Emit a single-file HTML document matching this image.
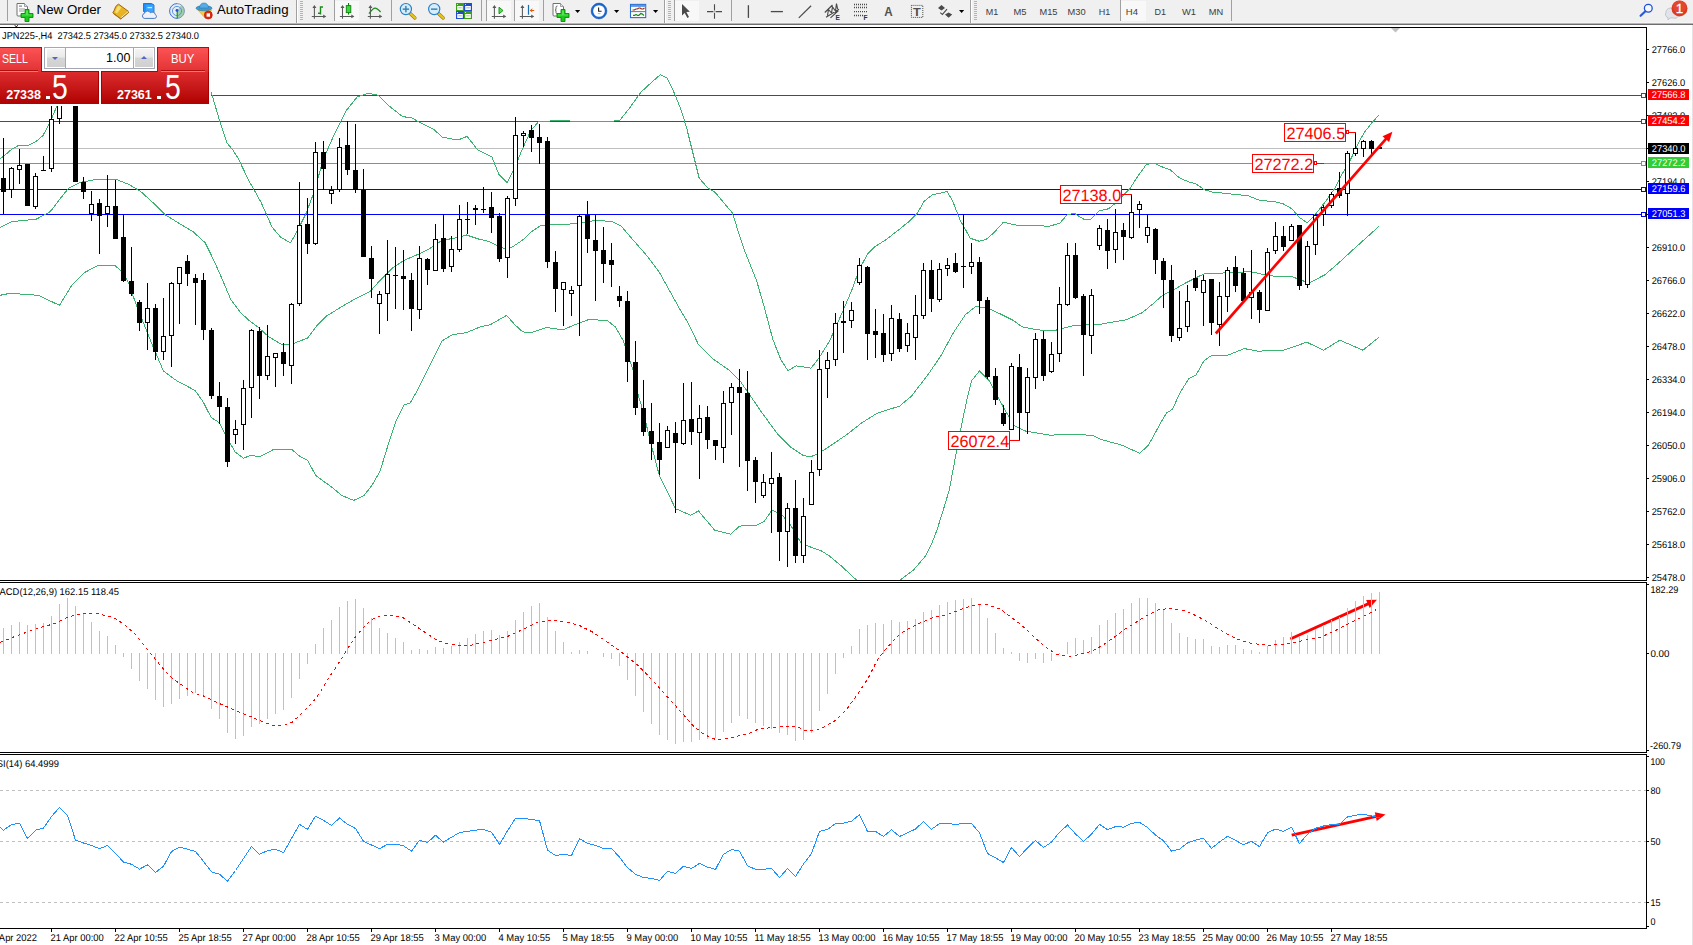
<!DOCTYPE html>
<html><head><meta charset="utf-8"><title>JPN225 H4</title>
<style>
*{margin:0;padding:0;box-sizing:border-box}
html,body{width:1693px;height:945px;overflow:hidden;background:#fff}
body{font-family:"Liberation Sans",sans-serif;position:relative}
svg{position:absolute;left:0;top:0;display:block}
svg text{font-family:"Liberation Sans",sans-serif}
#edge{position:absolute;left:1692px;top:25px;width:1px;height:920px;background:#e3e3e3}
#tp{position:absolute;left:0;top:47px;width:211px;height:59px;background:#fff;color:#fff}
#tp .sell{z-index:2;position:absolute;left:0;top:0;width:42px;height:25px;background:linear-gradient(#fb5354,#e23133);border-top:1px solid #c80000;border-right:1px solid #c00808}
#tp .buy{z-index:2;position:absolute;left:157px;top:0;width:52px;height:25px;background:linear-gradient(#fb5354,#e23133);border-top:1px solid #c80000;border-left:1px solid #c00808;border-right:1px solid #c00808}
#tp .lbl{position:absolute;top:4.2px;font-size:12.3px;line-height:14px;display:inline-block;transform-origin:0 50%;transform:scaleX(0.86);white-space:nowrap}
#tp .ul{position:absolute;top:22px;height:2px;background:linear-gradient(#b01010 50%,#f47878 50%)}
#tp .vol{position:absolute;left:44px;top:0;width:111px;height:22px;background:#fff;border:1px solid #a4a8b4}
#tp .btn{position:absolute;top:1px;width:18px;height:18px;background:linear-gradient(#f4f4f4,#eaeaea 45%,#d6d6d6 50%,#d0d0d0)}
#tp .vol:before{content:"";position:absolute;left:20px;top:0;width:1px;height:20px;background:#a4a8b4}
#tp .vol:after{content:"";position:absolute;left:88px;top:0;width:1px;height:20px;background:#a4a8b4}
#tp .dn{position:absolute;left:5.4px;top:8px;border:3px solid transparent;border-top:3.4px solid #5565c4;border-bottom:0}
#tp .up{position:absolute;left:6px;top:6.5px;border:3px solid transparent;border-bottom:3.4px solid #5565c4;border-top:0}
#tp .val{position:absolute;right:23.6px;top:3px;font-size:12.5px;line-height:14px;color:#000}
#tp .px{position:absolute;top:24px;height:33px;background:linear-gradient(#dd2b2c,#c81a1b 45%,#b00000);border-top:1px solid #b40000}
#tp .px.l{left:0;width:99px;border-right:1px solid #a80000}
#tp .px.r{left:101px;width:108px;border-left:1px solid #a80000;border-right:1px solid #a80000}
#tp .px b{position:absolute;top:17.4px;font-size:12.5px;line-height:12px;font-weight:bold}
#tp .dot{position:absolute;top:23.6px;width:4px;height:3.4px;background:#fff}
#tp .big{position:absolute;top:-1.8px;font-size:34.6px;line-height:34px;display:inline-block;transform-origin:0 50%;transform:scaleX(0.82)}
</style></head>
<body>
<svg width="1693" height="945" viewBox="0 0 1693 945">
<defs><clipPath id="mainclip"><rect x="0" y="28" width="1646" height="552"/></clipPath></defs>
<rect x="0" y="148" width="1646" height="1" fill="#c0c0c0"/>
<rect x="0" y="95" width="1646" height="1" fill="#ff0000"/>
<rect x="0" y="121" width="1646" height="1" fill="#ff0000"/>
<rect x="0" y="163" width="1646" height="1" fill="#32cd32"/>
<rect x="0" y="189" width="1646" height="1" fill="#0000ff"/>
<rect x="0" y="214" width="1646" height="1" fill="#0000ff"/>
<g clip-path="url(#mainclip)" shape-rendering="crispEdges">
<polyline points="0.0,159.0 6.0,154.2 12.0,149.0 18.4,145.5 28.4,145.3 36.0,141.5 43.0,135.5 49.6,123.4 56.7,106.4 60.0,92.0 70.0,75.0 120.0,60.0 190.0,62.0 205.0,75.0 211.2,92.6 212.6,96.9 219.7,121.0 226.8,142.8 232.6,149.7 238.2,158.5 249.5,181.9 260.8,201.8 272.2,227.3 280.7,237.2 290.6,242.9 297.7,230.1 306.2,213.1 314.7,190.4 323.2,159.2 334.6,133.7 345.9,111.0 357.2,96.9 368.6,93.2 378.5,95.4 388.4,105.4 402.6,116.7 411.1,117.6 422.5,123.8 433.8,129.5 442.3,137.1 453.6,139.4 460.0,139.2 467.1,136.4 477.7,149.9 491.9,156.9 499.0,174.7 507.1,182.5 513.2,171.1 522.0,149.9 530.9,130.4 538.7,121.5 560.0,120.6 580.0,121.4 600.0,121.5 619.5,120.8 630.1,107.3 640.7,92.4 651.4,82.5 660.2,74.7 667.3,78.3 674.4,93.2 681.5,110.9 686.8,128.6 692.1,149.9 699.2,178.2 708.0,188.1 715.1,192.4 724.0,203.0 732.5,213.0 738.2,231.4 744.8,251.2 756.8,281.3 764.9,309.5 772.9,339.6 780.9,359.8 788.0,370.8 796.0,365.8 811.1,368.2 819.1,357.7 829.2,341.7 839.2,319.5 851.3,291.4 859.4,269.3 867.4,254.2 875.4,246.2 885.5,240.1 899.6,229.1 910.0,220.7 917.1,213.6 924.2,201.2 932.0,195.0 947.1,191.6 952.2,200.0 960.2,220.2 970.3,238.3 979.3,241.3 986.3,239.3 994.4,232.2 1003.4,222.2 1016.5,225.2 1035.4,225.2 1048.7,226.5 1060.0,223.0 1067.3,214.6 1074.4,213.4 1083.9,219.3 1091.0,219.3 1099.2,211.0 1108.7,208.7 1115.8,202.8 1122.9,195.7 1129.9,188.6 1138.2,175.6 1146.5,164.3 1154.8,163.3 1163.0,167.3 1170.1,169.7 1179.6,178.0 1189.0,182.0 1196.1,183.9 1204.4,189.8 1212.6,192.1 1224.5,193.3 1236.3,194.5 1248.1,195.7 1259.9,200.4 1274.1,201.6 1283.5,204.0 1291.8,208.7 1298.9,217.0 1307.2,222.9 1313.1,217.0 1319.0,209.9 1327.2,199.2 1335.5,187.4 1342.6,173.2 1349.7,161.4 1356.8,146.1 1363.9,133.1 1372.1,122.4 1379.2,114.9" fill="none" stroke="#3cb371" stroke-width="1" />
<polyline points="0.0,227.7 12.0,221.6 36.2,219.2 50.3,211.6 60.3,198.5 68.4,188.5 80.4,182.4 96.5,179.4 116.6,179.6 128.7,184.4 140.7,191.5 152.8,202.5 164.9,214.6 180.9,224.4 193.0,231.7 205.1,242.7 213.1,258.8 221.2,277.0 231.0,300.0 241.0,313.0 249.5,320.8 259.0,328.0 269.0,337.0 281.0,344.0 289.5,345.1 307.6,338.0 317.7,324.6 325.7,316.6 341.8,306.6 355.9,298.5 369.9,291.7 380.0,280.4 392.0,268.4 404.1,260.3 418.2,254.3 430.2,248.3 442.3,240.2 454.4,238.2 466.4,235.0 478.5,239.0 488.5,241.4 498.6,246.2 505.0,249.0 512.7,246.8 522.7,240.0 530.8,232.2 540.8,225.5 550.0,224.3 562.9,224.9 579.0,222.9 595.1,220.5 611.2,221.3 621.2,226.1 633.3,240.2 647.4,256.3 659.4,272.4 669.5,290.5 680.0,309.4 688.5,323.6 698.5,344.7 712.6,358.7 728.7,369.8 740.7,381.9 749.8,395.0 760.8,411.1 776.9,433.2 791.0,447.3 803.1,455.3 810.1,456.9 817.1,454.3 831.2,445.3 847.3,434.2 861.4,423.1 877.4,413.1 899.6,406.1 911.6,396.0 929.3,372.9 941.4,354.8 953.4,332.7 965.5,314.6 975.5,306.6 987.6,307.8 1001.7,314.6 1013.7,320.6 1021.8,326.7 1037.9,329.9 1053.9,330.7 1074.0,325.4 1098.2,324.6 1114.3,321.8 1126.3,319.8 1142.4,312.6 1154.5,302.5 1162.5,295.3 1172.6,290.5 1186.6,282.4 1204.1,273.8 1218.8,273.2 1234.9,272.4 1250.4,271.6 1263.0,274.4 1270.5,275.9 1292.6,276.9 1308.7,283.0 1324.8,274.9 1339.4,262.3 1352.9,249.8 1379.0,226.3" fill="none" stroke="#3cb371" stroke-width="1" />
<polyline points="0.0,295.3 10.1,293.3 38.2,295.3 59.5,305.3 72.4,284.4 84.4,272.6 98.5,265.2 114.6,265.2 122.6,272.4 128.7,283.0 132.7,295.0 140.7,316.2 152.8,346.0 163.4,371.0 176.9,380.9 195.0,390.4 203.1,401.8 211.1,417.4 219.1,422.5 227.2,438.0 235.2,452.0 243.3,458.2 251.3,455.2 259.3,457.0 273.4,449.6 291.5,449.3 299.6,456.1 307.6,460.2 315.6,475.4 323.7,481.5 329.7,485.5 341.8,495.5 353.8,500.4 363.9,495.5 371.9,485.5 380.0,471.4 388.0,445.3 396.1,421.1 404.1,405.1 410.1,403.1 418.2,389.0 426.2,372.9 434.3,356.8 442.3,340.7 452.4,334.7 466.4,332.7 480.5,326.7 490.6,324.6 506.6,315.4 514.7,324.6 522.7,331.9 530.8,332.7 546.8,327.5 562.9,329.9 575.0,324.6 589.1,319.4 607.2,320.6 615.2,326.7 623.2,340.7 629.3,358.8 635.3,376.9 638.2,395.0 643.3,412.0 650.3,441.2 659.3,475.4 667.5,492.0 675.4,508.6 690.5,515.2 698.5,511.0 714.6,530.1 730.7,534.1 739.7,526.1 756.8,525.1 763.9,521.7 771.9,510.2 781.9,514.6 791.0,525.7 801.0,542.8 807.1,545.8 821.1,550.8 829.2,555.8 841.3,565.9 855.3,579.0 870.0,592.0 890.0,592.0 901.6,579.0 913.6,569.9 925.7,555.8 931.7,543.8 937.0,530.0 943.4,509.6 949.4,489.5 955.4,457.3 961.5,425.2 967.5,397.0 971.5,380.9 979.6,370.9 989.6,380.9 997.7,397.0 1005.7,411.1 1013.7,425.2 1025.8,431.2 1049.9,435.2 1066.0,434.4 1092.1,435.2 1100.2,439.2 1122.3,445.3 1139.6,453.3 1148.4,445.3 1160.5,423.2 1166.5,413.1 1172.6,409.1 1180.0,392.8 1188.6,378.9 1196.1,374.8 1204.1,360.7 1212.2,355.0 1228.3,355.0 1244.3,348.6 1258.4,351.2 1284.5,350.0 1306.7,342.2 1323.7,350.2 1339.8,340.2 1363.0,350.2 1379.0,337.2" fill="none" stroke="#3cb371" stroke-width="1" />
</g>
<g shape-rendering="crispEdges">
<rect x="3" y="138" width="1" height="76" fill="#000"/>
<rect x="1" y="178" width="5" height="14" fill="#000"/>
<rect x="11" y="167" width="1" height="1" fill="#000"/>
<rect x="11" y="190" width="1" height="8" fill="#000"/>
<rect x="9" y="168" width="5" height="22" fill="#000"/>
<rect x="10" y="169" width="3" height="20" fill="#fff"/>
<rect x="19" y="149" width="1" height="16" fill="#000"/>
<rect x="19" y="170" width="1" height="14" fill="#000"/>
<rect x="17" y="165" width="5" height="5" fill="#000"/>
<rect x="18" y="166" width="3" height="3" fill="#fff"/>
<rect x="27" y="164" width="1" height="42" fill="#000"/>
<rect x="25" y="164" width="5" height="42" fill="#000"/>
<rect x="35" y="173" width="1" height="3" fill="#000"/>
<rect x="35" y="207" width="1" height="2" fill="#000"/>
<rect x="33" y="176" width="5" height="31" fill="#000"/>
<rect x="34" y="177" width="3" height="29" fill="#fff"/>
<rect x="43" y="156" width="1" height="15" fill="#000"/>
<rect x="41" y="170" width="5" height="1" fill="#000"/>
<rect x="51" y="96" width="1" height="23" fill="#000"/>
<rect x="51" y="169" width="1" height="3" fill="#000"/>
<rect x="49" y="119" width="5" height="50" fill="#000"/>
<rect x="50" y="120" width="3" height="48" fill="#fff"/>
<rect x="59" y="119" width="1" height="5" fill="#000"/>
<rect x="57" y="96" width="5" height="23" fill="#000"/>
<rect x="58" y="97" width="3" height="21" fill="#fff"/>
<rect x="75" y="96" width="1" height="86" fill="#000"/>
<rect x="73" y="96" width="5" height="86" fill="#000"/>
<rect x="83" y="177" width="1" height="22" fill="#000"/>
<rect x="81" y="182" width="5" height="10" fill="#000"/>
<rect x="91" y="191" width="1" height="13" fill="#000"/>
<rect x="91" y="214" width="1" height="7" fill="#000"/>
<rect x="89" y="204" width="5" height="10" fill="#000"/>
<rect x="90" y="205" width="3" height="8" fill="#fff"/>
<rect x="99" y="199" width="1" height="55" fill="#000"/>
<rect x="97" y="203" width="5" height="13" fill="#000"/>
<rect x="107" y="175" width="1" height="31" fill="#000"/>
<rect x="107" y="214" width="1" height="13" fill="#000"/>
<rect x="105" y="206" width="5" height="8" fill="#000"/>
<rect x="106" y="207" width="3" height="6" fill="#fff"/>
<rect x="115" y="180" width="1" height="59" fill="#000"/>
<rect x="113" y="206" width="5" height="33" fill="#000"/>
<rect x="123" y="215" width="1" height="67" fill="#000"/>
<rect x="121" y="237" width="5" height="44" fill="#000"/>
<rect x="131" y="247" width="1" height="49" fill="#000"/>
<rect x="129" y="281" width="5" height="13" fill="#000"/>
<rect x="139" y="300" width="1" height="31" fill="#000"/>
<rect x="137" y="302" width="5" height="21" fill="#000"/>
<rect x="147" y="283" width="1" height="25" fill="#000"/>
<rect x="147" y="323" width="1" height="27" fill="#000"/>
<rect x="145" y="308" width="5" height="15" fill="#000"/>
<rect x="146" y="309" width="3" height="13" fill="#fff"/>
<rect x="155" y="304" width="1" height="56" fill="#000"/>
<rect x="153" y="308" width="5" height="44" fill="#000"/>
<rect x="163" y="298" width="1" height="38" fill="#000"/>
<rect x="163" y="352" width="1" height="8" fill="#000"/>
<rect x="161" y="336" width="5" height="16" fill="#000"/>
<rect x="162" y="337" width="3" height="14" fill="#fff"/>
<rect x="171" y="282" width="1" height="1" fill="#000"/>
<rect x="171" y="336" width="1" height="31" fill="#000"/>
<rect x="169" y="283" width="5" height="53" fill="#000"/>
<rect x="170" y="284" width="3" height="51" fill="#fff"/>
<rect x="179" y="284" width="1" height="40" fill="#000"/>
<rect x="177" y="267" width="5" height="17" fill="#000"/>
<rect x="178" y="268" width="3" height="15" fill="#fff"/>
<rect x="187" y="255" width="1" height="31" fill="#000"/>
<rect x="185" y="261" width="5" height="13" fill="#000"/>
<rect x="195" y="274" width="1" height="51" fill="#000"/>
<rect x="193" y="278" width="5" height="5" fill="#000"/>
<rect x="203" y="273" width="1" height="67" fill="#000"/>
<rect x="201" y="280" width="5" height="50" fill="#000"/>
<rect x="211" y="328" width="1" height="71" fill="#000"/>
<rect x="209" y="330" width="5" height="66" fill="#000"/>
<rect x="219" y="382" width="1" height="42" fill="#000"/>
<rect x="217" y="396" width="5" height="11" fill="#000"/>
<rect x="227" y="398" width="1" height="69" fill="#000"/>
<rect x="225" y="407" width="5" height="55" fill="#000"/>
<rect x="235" y="420" width="1" height="9" fill="#000"/>
<rect x="235" y="435" width="1" height="9" fill="#000"/>
<rect x="233" y="429" width="5" height="6" fill="#000"/>
<rect x="234" y="430" width="3" height="4" fill="#fff"/>
<rect x="243" y="380" width="1" height="8" fill="#000"/>
<rect x="243" y="425" width="1" height="25" fill="#000"/>
<rect x="241" y="388" width="5" height="37" fill="#000"/>
<rect x="242" y="389" width="3" height="35" fill="#fff"/>
<rect x="251" y="329" width="1" height="1" fill="#000"/>
<rect x="251" y="388" width="1" height="30" fill="#000"/>
<rect x="249" y="330" width="5" height="58" fill="#000"/>
<rect x="250" y="331" width="3" height="56" fill="#fff"/>
<rect x="259" y="327" width="1" height="72" fill="#000"/>
<rect x="257" y="331" width="5" height="45" fill="#000"/>
<rect x="267" y="325" width="1" height="31" fill="#000"/>
<rect x="267" y="376" width="1" height="4" fill="#000"/>
<rect x="265" y="356" width="5" height="20" fill="#000"/>
<rect x="266" y="357" width="3" height="18" fill="#fff"/>
<rect x="275" y="358" width="1" height="29" fill="#000"/>
<rect x="273" y="353" width="5" height="5" fill="#000"/>
<rect x="274" y="354" width="3" height="3" fill="#fff"/>
<rect x="283" y="343" width="1" height="33" fill="#000"/>
<rect x="281" y="352" width="5" height="12" fill="#000"/>
<rect x="291" y="303" width="1" height="1" fill="#000"/>
<rect x="291" y="366" width="1" height="18" fill="#000"/>
<rect x="289" y="304" width="5" height="62" fill="#000"/>
<rect x="290" y="305" width="3" height="60" fill="#fff"/>
<rect x="299" y="182" width="1" height="43" fill="#000"/>
<rect x="299" y="304" width="1" height="2" fill="#000"/>
<rect x="297" y="225" width="5" height="79" fill="#000"/>
<rect x="298" y="226" width="3" height="77" fill="#fff"/>
<rect x="307" y="198" width="1" height="56" fill="#000"/>
<rect x="305" y="224" width="5" height="20" fill="#000"/>
<rect x="315" y="142" width="1" height="10" fill="#000"/>
<rect x="315" y="244" width="1" height="1" fill="#000"/>
<rect x="313" y="152" width="5" height="92" fill="#000"/>
<rect x="314" y="153" width="3" height="90" fill="#fff"/>
<rect x="323" y="141" width="1" height="49" fill="#000"/>
<rect x="321" y="152" width="5" height="17" fill="#000"/>
<rect x="331" y="186" width="1" height="4" fill="#000"/>
<rect x="331" y="194" width="1" height="10" fill="#000"/>
<rect x="329" y="190" width="5" height="4" fill="#000"/>
<rect x="330" y="191" width="3" height="2" fill="#fff"/>
<rect x="339" y="138" width="1" height="9" fill="#000"/>
<rect x="339" y="190" width="1" height="2" fill="#000"/>
<rect x="337" y="147" width="5" height="43" fill="#000"/>
<rect x="338" y="148" width="3" height="41" fill="#fff"/>
<rect x="347" y="121" width="1" height="54" fill="#000"/>
<rect x="345" y="145" width="5" height="25" fill="#000"/>
<rect x="355" y="124" width="1" height="69" fill="#000"/>
<rect x="353" y="170" width="5" height="20" fill="#000"/>
<rect x="363" y="169" width="1" height="88" fill="#000"/>
<rect x="361" y="190" width="5" height="67" fill="#000"/>
<rect x="371" y="246" width="1" height="52" fill="#000"/>
<rect x="369" y="258" width="5" height="21" fill="#000"/>
<rect x="379" y="291" width="1" height="3" fill="#000"/>
<rect x="379" y="304" width="1" height="30" fill="#000"/>
<rect x="377" y="294" width="5" height="10" fill="#000"/>
<rect x="378" y="295" width="3" height="8" fill="#fff"/>
<rect x="387" y="240" width="1" height="34" fill="#000"/>
<rect x="387" y="294" width="1" height="27" fill="#000"/>
<rect x="385" y="274" width="5" height="20" fill="#000"/>
<rect x="386" y="275" width="3" height="18" fill="#fff"/>
<rect x="395" y="247" width="1" height="62" fill="#000"/>
<rect x="393" y="275" width="5" height="1" fill="#000"/>
<rect x="403" y="250" width="1" height="60" fill="#000"/>
<rect x="401" y="276" width="5" height="3" fill="#000"/>
<rect x="411" y="273" width="1" height="58" fill="#000"/>
<rect x="409" y="280" width="5" height="29" fill="#000"/>
<rect x="419" y="246" width="1" height="12" fill="#000"/>
<rect x="419" y="310" width="1" height="9" fill="#000"/>
<rect x="417" y="258" width="5" height="52" fill="#000"/>
<rect x="418" y="259" width="3" height="50" fill="#fff"/>
<rect x="427" y="258" width="1" height="27" fill="#000"/>
<rect x="425" y="259" width="5" height="11" fill="#000"/>
<rect x="435" y="224" width="1" height="15" fill="#000"/>
<rect x="433" y="239" width="5" height="32" fill="#000"/>
<rect x="434" y="240" width="3" height="30" fill="#fff"/>
<rect x="443" y="214" width="1" height="58" fill="#000"/>
<rect x="441" y="238" width="5" height="31" fill="#000"/>
<rect x="451" y="236" width="1" height="13" fill="#000"/>
<rect x="451" y="267" width="1" height="5" fill="#000"/>
<rect x="449" y="249" width="5" height="18" fill="#000"/>
<rect x="450" y="250" width="3" height="16" fill="#fff"/>
<rect x="459" y="205" width="1" height="14" fill="#000"/>
<rect x="459" y="250" width="1" height="2" fill="#000"/>
<rect x="457" y="219" width="5" height="31" fill="#000"/>
<rect x="458" y="220" width="3" height="29" fill="#fff"/>
<rect x="467" y="202" width="1" height="32" fill="#000"/>
<rect x="465" y="219" width="5" height="1" fill="#000"/>
<rect x="475" y="205" width="1" height="20" fill="#000"/>
<rect x="473" y="208" width="5" height="2" fill="#000"/>
<rect x="483" y="187" width="1" height="26" fill="#000"/>
<rect x="481" y="209" width="5" height="1" fill="#000"/>
<rect x="491" y="192" width="1" height="41" fill="#000"/>
<rect x="489" y="207" width="5" height="11" fill="#000"/>
<rect x="499" y="213" width="1" height="49" fill="#000"/>
<rect x="497" y="216" width="5" height="43" fill="#000"/>
<rect x="507" y="196" width="1" height="2" fill="#000"/>
<rect x="507" y="258" width="1" height="20" fill="#000"/>
<rect x="505" y="198" width="5" height="60" fill="#000"/>
<rect x="506" y="199" width="3" height="58" fill="#fff"/>
<rect x="515" y="117" width="1" height="18" fill="#000"/>
<rect x="515" y="199" width="1" height="7" fill="#000"/>
<rect x="513" y="135" width="5" height="64" fill="#000"/>
<rect x="514" y="136" width="3" height="62" fill="#fff"/>
<rect x="523" y="131" width="1" height="2" fill="#000"/>
<rect x="523" y="136" width="1" height="11" fill="#000"/>
<rect x="521" y="133" width="5" height="3" fill="#000"/>
<rect x="522" y="134" width="3" height="1" fill="#fff"/>
<rect x="531" y="125" width="1" height="27" fill="#000"/>
<rect x="529" y="130" width="5" height="8" fill="#000"/>
<rect x="539" y="124" width="1" height="40" fill="#000"/>
<rect x="537" y="137" width="5" height="6" fill="#000"/>
<rect x="547" y="137" width="1" height="131" fill="#000"/>
<rect x="545" y="141" width="5" height="121" fill="#000"/>
<rect x="555" y="251" width="1" height="61" fill="#000"/>
<rect x="553" y="262" width="5" height="27" fill="#000"/>
<rect x="563" y="290" width="1" height="36" fill="#000"/>
<rect x="561" y="282" width="5" height="8" fill="#000"/>
<rect x="562" y="283" width="3" height="6" fill="#fff"/>
<rect x="571" y="286" width="1" height="4" fill="#000"/>
<rect x="571" y="294" width="1" height="22" fill="#000"/>
<rect x="569" y="290" width="5" height="4" fill="#000"/>
<rect x="570" y="291" width="3" height="2" fill="#fff"/>
<rect x="579" y="215" width="1" height="1" fill="#000"/>
<rect x="579" y="286" width="1" height="50" fill="#000"/>
<rect x="577" y="216" width="5" height="70" fill="#000"/>
<rect x="578" y="217" width="3" height="68" fill="#fff"/>
<rect x="587" y="201" width="1" height="52" fill="#000"/>
<rect x="585" y="215" width="5" height="24" fill="#000"/>
<rect x="595" y="215" width="1" height="86" fill="#000"/>
<rect x="593" y="240" width="5" height="11" fill="#000"/>
<rect x="603" y="227" width="1" height="56" fill="#000"/>
<rect x="601" y="250" width="5" height="14" fill="#000"/>
<rect x="611" y="243" width="1" height="44" fill="#000"/>
<rect x="609" y="260" width="5" height="5" fill="#000"/>
<rect x="619" y="286" width="1" height="21" fill="#000"/>
<rect x="617" y="296" width="5" height="5" fill="#000"/>
<rect x="627" y="291" width="1" height="91" fill="#000"/>
<rect x="625" y="301" width="5" height="61" fill="#000"/>
<rect x="635" y="341" width="1" height="74" fill="#000"/>
<rect x="633" y="362" width="5" height="46" fill="#000"/>
<rect x="643" y="380" width="1" height="56" fill="#000"/>
<rect x="641" y="408" width="5" height="24" fill="#000"/>
<rect x="651" y="403" width="1" height="57" fill="#000"/>
<rect x="649" y="431" width="5" height="13" fill="#000"/>
<rect x="659" y="423" width="1" height="52" fill="#000"/>
<rect x="657" y="442" width="5" height="18" fill="#000"/>
<rect x="667" y="426" width="1" height="4" fill="#000"/>
<rect x="665" y="430" width="5" height="18" fill="#000"/>
<rect x="666" y="431" width="3" height="16" fill="#fff"/>
<rect x="675" y="422" width="1" height="91" fill="#000"/>
<rect x="673" y="433" width="5" height="10" fill="#000"/>
<rect x="683" y="383" width="1" height="37" fill="#000"/>
<rect x="683" y="444" width="1" height="1" fill="#000"/>
<rect x="681" y="420" width="5" height="24" fill="#000"/>
<rect x="682" y="421" width="3" height="22" fill="#fff"/>
<rect x="691" y="382" width="1" height="63" fill="#000"/>
<rect x="689" y="419" width="5" height="13" fill="#000"/>
<rect x="699" y="405" width="1" height="13" fill="#000"/>
<rect x="699" y="433" width="1" height="46" fill="#000"/>
<rect x="697" y="418" width="5" height="15" fill="#000"/>
<rect x="698" y="419" width="3" height="13" fill="#fff"/>
<rect x="707" y="406" width="1" height="43" fill="#000"/>
<rect x="705" y="417" width="5" height="23" fill="#000"/>
<rect x="715" y="440" width="1" height="20" fill="#000"/>
<rect x="713" y="440" width="5" height="6" fill="#000"/>
<rect x="723" y="391" width="1" height="12" fill="#000"/>
<rect x="723" y="448" width="1" height="15" fill="#000"/>
<rect x="721" y="403" width="5" height="45" fill="#000"/>
<rect x="722" y="404" width="3" height="43" fill="#fff"/>
<rect x="731" y="383" width="1" height="4" fill="#000"/>
<rect x="731" y="403" width="1" height="32" fill="#000"/>
<rect x="729" y="387" width="5" height="16" fill="#000"/>
<rect x="730" y="388" width="3" height="14" fill="#fff"/>
<rect x="739" y="369" width="1" height="98" fill="#000"/>
<rect x="737" y="387" width="5" height="6" fill="#000"/>
<rect x="747" y="371" width="1" height="120" fill="#000"/>
<rect x="745" y="393" width="5" height="68" fill="#000"/>
<rect x="755" y="457" width="1" height="46" fill="#000"/>
<rect x="753" y="460" width="5" height="22" fill="#000"/>
<rect x="763" y="474" width="1" height="8" fill="#000"/>
<rect x="763" y="496" width="1" height="2" fill="#000"/>
<rect x="761" y="482" width="5" height="14" fill="#000"/>
<rect x="762" y="483" width="3" height="12" fill="#fff"/>
<rect x="771" y="452" width="1" height="26" fill="#000"/>
<rect x="771" y="484" width="1" height="49" fill="#000"/>
<rect x="769" y="478" width="5" height="6" fill="#000"/>
<rect x="770" y="479" width="3" height="4" fill="#fff"/>
<rect x="779" y="473" width="1" height="88" fill="#000"/>
<rect x="777" y="477" width="5" height="55" fill="#000"/>
<rect x="787" y="503" width="1" height="5" fill="#000"/>
<rect x="787" y="532" width="1" height="35" fill="#000"/>
<rect x="785" y="508" width="5" height="24" fill="#000"/>
<rect x="786" y="509" width="3" height="22" fill="#fff"/>
<rect x="795" y="480" width="1" height="83" fill="#000"/>
<rect x="793" y="508" width="5" height="48" fill="#000"/>
<rect x="803" y="498" width="1" height="18" fill="#000"/>
<rect x="803" y="556" width="1" height="7" fill="#000"/>
<rect x="801" y="516" width="5" height="40" fill="#000"/>
<rect x="802" y="517" width="3" height="38" fill="#fff"/>
<rect x="811" y="460" width="1" height="12" fill="#000"/>
<rect x="809" y="472" width="5" height="33" fill="#000"/>
<rect x="810" y="473" width="3" height="31" fill="#fff"/>
<rect x="819" y="350" width="1" height="19" fill="#000"/>
<rect x="819" y="470" width="1" height="6" fill="#000"/>
<rect x="817" y="369" width="5" height="101" fill="#000"/>
<rect x="818" y="370" width="3" height="99" fill="#fff"/>
<rect x="827" y="352" width="1" height="8" fill="#000"/>
<rect x="827" y="369" width="1" height="29" fill="#000"/>
<rect x="825" y="360" width="5" height="9" fill="#000"/>
<rect x="826" y="361" width="3" height="7" fill="#fff"/>
<rect x="835" y="313" width="1" height="10" fill="#000"/>
<rect x="835" y="360" width="1" height="6" fill="#000"/>
<rect x="833" y="323" width="5" height="37" fill="#000"/>
<rect x="834" y="324" width="3" height="35" fill="#fff"/>
<rect x="843" y="301" width="1" height="52" fill="#000"/>
<rect x="841" y="321" width="5" height="2" fill="#000"/>
<rect x="851" y="302" width="1" height="8" fill="#000"/>
<rect x="851" y="321" width="1" height="7" fill="#000"/>
<rect x="849" y="310" width="5" height="11" fill="#000"/>
<rect x="850" y="311" width="3" height="9" fill="#fff"/>
<rect x="859" y="258" width="1" height="7" fill="#000"/>
<rect x="859" y="283" width="1" height="2" fill="#000"/>
<rect x="857" y="265" width="5" height="18" fill="#000"/>
<rect x="858" y="266" width="3" height="16" fill="#fff"/>
<rect x="867" y="266" width="1" height="94" fill="#000"/>
<rect x="865" y="267" width="5" height="67" fill="#000"/>
<rect x="875" y="309" width="1" height="49" fill="#000"/>
<rect x="873" y="331" width="5" height="4" fill="#000"/>
<rect x="883" y="314" width="1" height="48" fill="#000"/>
<rect x="881" y="333" width="5" height="22" fill="#000"/>
<rect x="891" y="305" width="1" height="13" fill="#000"/>
<rect x="891" y="354" width="1" height="7" fill="#000"/>
<rect x="889" y="318" width="5" height="36" fill="#000"/>
<rect x="890" y="319" width="3" height="34" fill="#fff"/>
<rect x="899" y="313" width="1" height="39" fill="#000"/>
<rect x="897" y="319" width="5" height="30" fill="#000"/>
<rect x="907" y="323" width="1" height="10" fill="#000"/>
<rect x="907" y="346" width="1" height="6" fill="#000"/>
<rect x="905" y="333" width="5" height="13" fill="#000"/>
<rect x="906" y="334" width="3" height="11" fill="#fff"/>
<rect x="915" y="295" width="1" height="20" fill="#000"/>
<rect x="915" y="338" width="1" height="22" fill="#000"/>
<rect x="913" y="315" width="5" height="23" fill="#000"/>
<rect x="914" y="316" width="3" height="21" fill="#fff"/>
<rect x="923" y="263" width="1" height="7" fill="#000"/>
<rect x="923" y="316" width="1" height="3" fill="#000"/>
<rect x="921" y="270" width="5" height="46" fill="#000"/>
<rect x="922" y="271" width="3" height="44" fill="#fff"/>
<rect x="931" y="260" width="1" height="52" fill="#000"/>
<rect x="929" y="270" width="5" height="29" fill="#000"/>
<rect x="939" y="263" width="1" height="6" fill="#000"/>
<rect x="939" y="300" width="1" height="2" fill="#000"/>
<rect x="937" y="269" width="5" height="31" fill="#000"/>
<rect x="938" y="270" width="3" height="29" fill="#fff"/>
<rect x="947" y="258" width="1" height="7" fill="#000"/>
<rect x="947" y="269" width="1" height="7" fill="#000"/>
<rect x="945" y="265" width="5" height="4" fill="#000"/>
<rect x="946" y="266" width="3" height="2" fill="#fff"/>
<rect x="955" y="253" width="1" height="20" fill="#000"/>
<rect x="953" y="263" width="5" height="9" fill="#000"/>
<rect x="963" y="214" width="1" height="74" fill="#000"/>
<rect x="961" y="266" width="5" height="1" fill="#000"/>
<rect x="971" y="243" width="1" height="19" fill="#000"/>
<rect x="971" y="267" width="1" height="7" fill="#000"/>
<rect x="969" y="262" width="5" height="5" fill="#000"/>
<rect x="970" y="263" width="3" height="3" fill="#fff"/>
<rect x="979" y="257" width="1" height="57" fill="#000"/>
<rect x="977" y="262" width="5" height="39" fill="#000"/>
<rect x="987" y="297" width="1" height="82" fill="#000"/>
<rect x="985" y="300" width="5" height="77" fill="#000"/>
<rect x="995" y="368" width="1" height="37" fill="#000"/>
<rect x="993" y="376" width="5" height="24" fill="#000"/>
<rect x="1003" y="405" width="1" height="21" fill="#000"/>
<rect x="1001" y="413" width="5" height="11" fill="#000"/>
<rect x="1011" y="363" width="1" height="3" fill="#000"/>
<rect x="1009" y="366" width="5" height="64" fill="#000"/>
<rect x="1010" y="367" width="3" height="62" fill="#fff"/>
<rect x="1019" y="354" width="1" height="86" fill="#000"/>
<rect x="1017" y="367" width="5" height="46" fill="#000"/>
<rect x="1027" y="368" width="1" height="9" fill="#000"/>
<rect x="1027" y="413" width="1" height="21" fill="#000"/>
<rect x="1025" y="377" width="5" height="36" fill="#000"/>
<rect x="1026" y="378" width="3" height="34" fill="#fff"/>
<rect x="1035" y="333" width="1" height="6" fill="#000"/>
<rect x="1035" y="378" width="1" height="11" fill="#000"/>
<rect x="1033" y="339" width="5" height="39" fill="#000"/>
<rect x="1034" y="340" width="3" height="37" fill="#fff"/>
<rect x="1043" y="331" width="1" height="50" fill="#000"/>
<rect x="1041" y="339" width="5" height="37" fill="#000"/>
<rect x="1051" y="342" width="1" height="12" fill="#000"/>
<rect x="1051" y="372" width="1" height="1" fill="#000"/>
<rect x="1049" y="354" width="5" height="18" fill="#000"/>
<rect x="1050" y="355" width="3" height="16" fill="#fff"/>
<rect x="1059" y="287" width="1" height="17" fill="#000"/>
<rect x="1059" y="354" width="1" height="8" fill="#000"/>
<rect x="1057" y="304" width="5" height="50" fill="#000"/>
<rect x="1058" y="305" width="3" height="48" fill="#fff"/>
<rect x="1067" y="243" width="1" height="12" fill="#000"/>
<rect x="1067" y="305" width="1" height="1" fill="#000"/>
<rect x="1065" y="255" width="5" height="50" fill="#000"/>
<rect x="1066" y="256" width="3" height="48" fill="#fff"/>
<rect x="1075" y="243" width="1" height="56" fill="#000"/>
<rect x="1073" y="255" width="5" height="43" fill="#000"/>
<rect x="1083" y="294" width="1" height="82" fill="#000"/>
<rect x="1081" y="296" width="5" height="39" fill="#000"/>
<rect x="1091" y="289" width="1" height="6" fill="#000"/>
<rect x="1091" y="336" width="1" height="18" fill="#000"/>
<rect x="1089" y="295" width="5" height="41" fill="#000"/>
<rect x="1090" y="296" width="3" height="39" fill="#fff"/>
<rect x="1099" y="225" width="1" height="3" fill="#000"/>
<rect x="1099" y="246" width="1" height="4" fill="#000"/>
<rect x="1097" y="228" width="5" height="18" fill="#000"/>
<rect x="1098" y="229" width="3" height="16" fill="#fff"/>
<rect x="1107" y="219" width="1" height="50" fill="#000"/>
<rect x="1105" y="230" width="5" height="21" fill="#000"/>
<rect x="1115" y="209" width="1" height="23" fill="#000"/>
<rect x="1115" y="250" width="1" height="13" fill="#000"/>
<rect x="1113" y="232" width="5" height="18" fill="#000"/>
<rect x="1114" y="233" width="3" height="16" fill="#fff"/>
<rect x="1123" y="223" width="1" height="37" fill="#000"/>
<rect x="1121" y="230" width="5" height="7" fill="#000"/>
<rect x="1131" y="194" width="1" height="18" fill="#000"/>
<rect x="1131" y="238" width="1" height="1" fill="#000"/>
<rect x="1129" y="212" width="5" height="26" fill="#000"/>
<rect x="1130" y="213" width="3" height="24" fill="#fff"/>
<rect x="1139" y="201" width="1" height="3" fill="#000"/>
<rect x="1139" y="210" width="1" height="18" fill="#000"/>
<rect x="1137" y="204" width="5" height="6" fill="#000"/>
<rect x="1138" y="205" width="3" height="4" fill="#fff"/>
<rect x="1147" y="215" width="1" height="12" fill="#000"/>
<rect x="1147" y="236" width="1" height="7" fill="#000"/>
<rect x="1145" y="227" width="5" height="9" fill="#000"/>
<rect x="1146" y="228" width="3" height="7" fill="#fff"/>
<rect x="1155" y="228" width="1" height="46" fill="#000"/>
<rect x="1153" y="229" width="5" height="31" fill="#000"/>
<rect x="1163" y="258" width="1" height="50" fill="#000"/>
<rect x="1161" y="261" width="5" height="19" fill="#000"/>
<rect x="1171" y="265" width="1" height="77" fill="#000"/>
<rect x="1169" y="280" width="5" height="56" fill="#000"/>
<rect x="1179" y="291" width="1" height="37" fill="#000"/>
<rect x="1179" y="338" width="1" height="3" fill="#000"/>
<rect x="1177" y="328" width="5" height="10" fill="#000"/>
<rect x="1178" y="329" width="3" height="8" fill="#fff"/>
<rect x="1187" y="285" width="1" height="16" fill="#000"/>
<rect x="1187" y="327" width="1" height="5" fill="#000"/>
<rect x="1185" y="301" width="5" height="26" fill="#000"/>
<rect x="1186" y="302" width="3" height="24" fill="#fff"/>
<rect x="1195" y="270" width="1" height="21" fill="#000"/>
<rect x="1193" y="278" width="5" height="10" fill="#000"/>
<rect x="1203" y="275" width="1" height="5" fill="#000"/>
<rect x="1203" y="293" width="1" height="33" fill="#000"/>
<rect x="1201" y="280" width="5" height="13" fill="#000"/>
<rect x="1202" y="281" width="3" height="11" fill="#fff"/>
<rect x="1211" y="279" width="1" height="56" fill="#000"/>
<rect x="1209" y="279" width="5" height="44" fill="#000"/>
<rect x="1219" y="282" width="1" height="14" fill="#000"/>
<rect x="1219" y="325" width="1" height="21" fill="#000"/>
<rect x="1217" y="296" width="5" height="29" fill="#000"/>
<rect x="1218" y="297" width="3" height="27" fill="#fff"/>
<rect x="1227" y="267" width="1" height="3" fill="#000"/>
<rect x="1227" y="297" width="1" height="15" fill="#000"/>
<rect x="1225" y="270" width="5" height="27" fill="#000"/>
<rect x="1226" y="271" width="3" height="25" fill="#fff"/>
<rect x="1235" y="256" width="1" height="36" fill="#000"/>
<rect x="1233" y="267" width="5" height="19" fill="#000"/>
<rect x="1243" y="268" width="1" height="33" fill="#000"/>
<rect x="1241" y="273" width="5" height="28" fill="#000"/>
<rect x="1251" y="250" width="1" height="42" fill="#000"/>
<rect x="1251" y="298" width="1" height="21" fill="#000"/>
<rect x="1249" y="292" width="5" height="6" fill="#000"/>
<rect x="1250" y="293" width="3" height="4" fill="#fff"/>
<rect x="1259" y="290" width="1" height="33" fill="#000"/>
<rect x="1257" y="292" width="5" height="18" fill="#000"/>
<rect x="1267" y="248" width="1" height="4" fill="#000"/>
<rect x="1265" y="252" width="5" height="59" fill="#000"/>
<rect x="1266" y="253" width="3" height="57" fill="#fff"/>
<rect x="1275" y="222" width="1" height="14" fill="#000"/>
<rect x="1275" y="251" width="1" height="3" fill="#000"/>
<rect x="1273" y="236" width="5" height="15" fill="#000"/>
<rect x="1274" y="237" width="3" height="13" fill="#fff"/>
<rect x="1283" y="226" width="1" height="25" fill="#000"/>
<rect x="1281" y="236" width="5" height="11" fill="#000"/>
<rect x="1291" y="224" width="1" height="2" fill="#000"/>
<rect x="1289" y="226" width="5" height="15" fill="#000"/>
<rect x="1290" y="227" width="3" height="13" fill="#fff"/>
<rect x="1299" y="225" width="1" height="65" fill="#000"/>
<rect x="1297" y="225" width="5" height="61" fill="#000"/>
<rect x="1307" y="241" width="1" height="5" fill="#000"/>
<rect x="1307" y="285" width="1" height="3" fill="#000"/>
<rect x="1305" y="246" width="5" height="39" fill="#000"/>
<rect x="1306" y="247" width="3" height="37" fill="#fff"/>
<rect x="1315" y="214" width="1" height="1" fill="#000"/>
<rect x="1315" y="245" width="1" height="10" fill="#000"/>
<rect x="1313" y="215" width="5" height="30" fill="#000"/>
<rect x="1314" y="216" width="3" height="28" fill="#fff"/>
<rect x="1323" y="205" width="1" height="2" fill="#000"/>
<rect x="1323" y="215" width="1" height="11" fill="#000"/>
<rect x="1321" y="207" width="5" height="8" fill="#000"/>
<rect x="1322" y="208" width="3" height="6" fill="#fff"/>
<rect x="1331" y="192" width="1" height="2" fill="#000"/>
<rect x="1331" y="206" width="1" height="2" fill="#000"/>
<rect x="1329" y="194" width="5" height="12" fill="#000"/>
<rect x="1330" y="195" width="3" height="10" fill="#fff"/>
<rect x="1339" y="172" width="1" height="26" fill="#000"/>
<rect x="1337" y="188" width="5" height="8" fill="#000"/>
<rect x="1347" y="151" width="1" height="2" fill="#000"/>
<rect x="1347" y="194" width="1" height="22" fill="#000"/>
<rect x="1345" y="153" width="5" height="41" fill="#000"/>
<rect x="1346" y="154" width="3" height="39" fill="#fff"/>
<rect x="1355" y="132" width="1" height="16" fill="#000"/>
<rect x="1355" y="154" width="1" height="2" fill="#000"/>
<rect x="1353" y="148" width="5" height="6" fill="#000"/>
<rect x="1354" y="149" width="3" height="4" fill="#fff"/>
<rect x="1363" y="140" width="1" height="1" fill="#000"/>
<rect x="1363" y="149" width="1" height="8" fill="#000"/>
<rect x="1361" y="141" width="5" height="8" fill="#000"/>
<rect x="1362" y="142" width="3" height="6" fill="#fff"/>
<rect x="1371" y="140" width="1" height="14" fill="#000"/>
<rect x="1369" y="141" width="5" height="8" fill="#000"/>
<rect x="1378" y="147" width="4" height="2" fill="#000"/>
</g>
<g shape-rendering="crispEdges">
<rect x="1122" y="194" width="10" height="1" fill="#ff0000"/>
<rect x="1010" y="440" width="10" height="1" fill="#ff0000"/>
<rect x="1349" y="132" width="7" height="1" fill="#ff0000"/>
<rect x="1346" y="130" width="3" height="4" fill="#ff0000"/><rect x="1347" y="131" width="1" height="2" fill="#fff"/>
<rect x="1317" y="163" width="7" height="1" fill="#ff0000"/>
<rect x="1314" y="161" width="3" height="4" fill="#ff0000"/><rect x="1315" y="162" width="1" height="2" fill="#fff"/>
</g>
<rect x="1060.5" y="185.5" width="61" height="18" fill="#fff" stroke="#ff0000" stroke-width="1"/>
<text x="1062.4" y="200.8" font-size="16.4" fill="#ff0000" text-rendering="geometricPrecision" textLength="58.8" lengthAdjust="spacingAndGlyphs">27138.0</text>
<rect x="948.5" y="431.5" width="61" height="18" fill="#fff" stroke="#ff0000" stroke-width="1"/>
<text x="950.4" y="446.8" font-size="16.4" fill="#ff0000" text-rendering="geometricPrecision" textLength="58.8" lengthAdjust="spacingAndGlyphs">26072.4</text>
<rect x="1284.5" y="123.5" width="61" height="18" fill="#fff" stroke="#ff0000" stroke-width="1"/>
<text x="1286.4" y="138.8" font-size="16.4" fill="#ff0000" text-rendering="geometricPrecision" textLength="58.8" lengthAdjust="spacingAndGlyphs">27406.5</text>
<rect x="1252.5" y="154.5" width="61" height="18" fill="#fff" stroke="#ff0000" stroke-width="1"/>
<text x="1254.4" y="169.8" font-size="16.4" fill="#ff0000" text-rendering="geometricPrecision" textLength="58.8" lengthAdjust="spacingAndGlyphs">27272.2</text>
<line x1="1215.8" y1="333.5" x2="1387.1" y2="137.7" stroke="#ff0000" stroke-width="2.7"/>
<polygon points="1392.4,131.7 1389.1,142.1 1382.5,136.3" fill="#ff0000"/>
<line x1="1290.3" y1="639.0" x2="1369.7" y2="603.1" stroke="#ff0000" stroke-width="2.8"/>
<polygon points="1377.0,599.8 1369.7,607.9 1366.1,599.9" fill="#ff0000"/>
<line x1="1291.7" y1="835.1" x2="1377.7" y2="816.1" stroke="#ff0000" stroke-width="2.8"/>
<polygon points="1385.5,814.4 1376.7,820.9 1374.8,812.3" fill="#ff0000"/>
<g shape-rendering="crispEdges">
<rect x="3" y="628" width="1" height="26" fill="#c0c0c0"/>
<rect x="11" y="625" width="1" height="29" fill="#c0c0c0"/>
<rect x="19" y="622" width="1" height="32" fill="#c0c0c0"/>
<rect x="27" y="625" width="1" height="29" fill="#c0c0c0"/>
<rect x="35" y="624" width="1" height="30" fill="#c0c0c0"/>
<rect x="43" y="623" width="1" height="31" fill="#c0c0c0"/>
<rect x="51" y="616" width="1" height="38" fill="#c0c0c0"/>
<rect x="59" y="604" width="1" height="50" fill="#c0c0c0"/>
<rect x="67" y="598" width="1" height="56" fill="#c0c0c0"/>
<rect x="75" y="606" width="1" height="48" fill="#c0c0c0"/>
<rect x="83" y="614" width="1" height="40" fill="#c0c0c0"/>
<rect x="91" y="622" width="1" height="32" fill="#c0c0c0"/>
<rect x="99" y="631" width="1" height="23" fill="#c0c0c0"/>
<rect x="107" y="636" width="1" height="18" fill="#c0c0c0"/>
<rect x="115" y="645" width="1" height="9" fill="#c0c0c0"/>
<rect x="123" y="653" width="1" height="4" fill="#c0c0c0"/>
<rect x="131" y="653" width="1" height="16" fill="#c0c0c0"/>
<rect x="139" y="653" width="1" height="28" fill="#c0c0c0"/>
<rect x="147" y="653" width="1" height="36" fill="#c0c0c0"/>
<rect x="155" y="653" width="1" height="47" fill="#c0c0c0"/>
<rect x="163" y="653" width="1" height="54" fill="#c0c0c0"/>
<rect x="171" y="653" width="1" height="51" fill="#c0c0c0"/>
<rect x="179" y="653" width="1" height="46" fill="#c0c0c0"/>
<rect x="187" y="653" width="1" height="43" fill="#c0c0c0"/>
<rect x="195" y="653" width="1" height="40" fill="#c0c0c0"/>
<rect x="203" y="653" width="1" height="43" fill="#c0c0c0"/>
<rect x="211" y="653" width="1" height="56" fill="#c0c0c0"/>
<rect x="219" y="653" width="1" height="66" fill="#c0c0c0"/>
<rect x="227" y="653" width="1" height="80" fill="#c0c0c0"/>
<rect x="235" y="653" width="1" height="86" fill="#c0c0c0"/>
<rect x="243" y="653" width="1" height="83" fill="#c0c0c0"/>
<rect x="251" y="653" width="1" height="74" fill="#c0c0c0"/>
<rect x="259" y="653" width="1" height="71" fill="#c0c0c0"/>
<rect x="267" y="653" width="1" height="66" fill="#c0c0c0"/>
<rect x="275" y="653" width="1" height="61" fill="#c0c0c0"/>
<rect x="283" y="653" width="1" height="57" fill="#c0c0c0"/>
<rect x="291" y="653" width="1" height="45" fill="#c0c0c0"/>
<rect x="299" y="653" width="1" height="26" fill="#c0c0c0"/>
<rect x="307" y="653" width="1" height="11" fill="#c0c0c0"/>
<rect x="315" y="644" width="1" height="10" fill="#c0c0c0"/>
<rect x="323" y="628" width="1" height="26" fill="#c0c0c0"/>
<rect x="331" y="620" width="1" height="34" fill="#c0c0c0"/>
<rect x="339" y="607" width="1" height="47" fill="#c0c0c0"/>
<rect x="347" y="601" width="1" height="53" fill="#c0c0c0"/>
<rect x="355" y="599" width="1" height="55" fill="#c0c0c0"/>
<rect x="363" y="608" width="1" height="46" fill="#c0c0c0"/>
<rect x="371" y="618" width="1" height="36" fill="#c0c0c0"/>
<rect x="379" y="628" width="1" height="26" fill="#c0c0c0"/>
<rect x="387" y="633" width="1" height="21" fill="#c0c0c0"/>
<rect x="395" y="638" width="1" height="16" fill="#c0c0c0"/>
<rect x="403" y="642" width="1" height="12" fill="#c0c0c0"/>
<rect x="411" y="650" width="1" height="4" fill="#c0c0c0"/>
<rect x="419" y="649" width="1" height="5" fill="#c0c0c0"/>
<rect x="427" y="650" width="1" height="4" fill="#c0c0c0"/>
<rect x="435" y="647" width="1" height="7" fill="#c0c0c0"/>
<rect x="443" y="648" width="1" height="6" fill="#c0c0c0"/>
<rect x="451" y="646" width="1" height="8" fill="#c0c0c0"/>
<rect x="459" y="642" width="1" height="12" fill="#c0c0c0"/>
<rect x="467" y="638" width="1" height="16" fill="#c0c0c0"/>
<rect x="475" y="634" width="1" height="20" fill="#c0c0c0"/>
<rect x="483" y="631" width="1" height="23" fill="#c0c0c0"/>
<rect x="491" y="630" width="1" height="24" fill="#c0c0c0"/>
<rect x="499" y="635" width="1" height="19" fill="#c0c0c0"/>
<rect x="507" y="631" width="1" height="23" fill="#c0c0c0"/>
<rect x="515" y="620" width="1" height="34" fill="#c0c0c0"/>
<rect x="523" y="612" width="1" height="42" fill="#c0c0c0"/>
<rect x="531" y="606" width="1" height="48" fill="#c0c0c0"/>
<rect x="539" y="603" width="1" height="51" fill="#c0c0c0"/>
<rect x="547" y="617" width="1" height="37" fill="#c0c0c0"/>
<rect x="555" y="631" width="1" height="23" fill="#c0c0c0"/>
<rect x="563" y="642" width="1" height="12" fill="#c0c0c0"/>
<rect x="571" y="652" width="1" height="2" fill="#c0c0c0"/>
<rect x="579" y="650" width="1" height="4" fill="#c0c0c0"/>
<rect x="587" y="651" width="1" height="3" fill="#c0c0c0"/>
<rect x="603" y="653" width="1" height="4" fill="#c0c0c0"/>
<rect x="611" y="653" width="1" height="6" fill="#c0c0c0"/>
<rect x="619" y="653" width="1" height="13" fill="#c0c0c0"/>
<rect x="627" y="653" width="1" height="27" fill="#c0c0c0"/>
<rect x="635" y="653" width="1" height="43" fill="#c0c0c0"/>
<rect x="643" y="653" width="1" height="59" fill="#c0c0c0"/>
<rect x="651" y="653" width="1" height="71" fill="#c0c0c0"/>
<rect x="659" y="653" width="1" height="82" fill="#c0c0c0"/>
<rect x="667" y="653" width="1" height="87" fill="#c0c0c0"/>
<rect x="675" y="653" width="1" height="91" fill="#c0c0c0"/>
<rect x="683" y="653" width="1" height="89" fill="#c0c0c0"/>
<rect x="691" y="653" width="1" height="89" fill="#c0c0c0"/>
<rect x="699" y="653" width="1" height="87" fill="#c0c0c0"/>
<rect x="707" y="653" width="1" height="86" fill="#c0c0c0"/>
<rect x="715" y="653" width="1" height="85" fill="#c0c0c0"/>
<rect x="723" y="653" width="1" height="79" fill="#c0c0c0"/>
<rect x="731" y="653" width="1" height="70" fill="#c0c0c0"/>
<rect x="739" y="653" width="1" height="63" fill="#c0c0c0"/>
<rect x="747" y="653" width="1" height="66" fill="#c0c0c0"/>
<rect x="755" y="653" width="1" height="70" fill="#c0c0c0"/>
<rect x="763" y="653" width="1" height="73" fill="#c0c0c0"/>
<rect x="771" y="653" width="1" height="76" fill="#c0c0c0"/>
<rect x="779" y="653" width="1" height="80" fill="#c0c0c0"/>
<rect x="787" y="653" width="1" height="82" fill="#c0c0c0"/>
<rect x="795" y="653" width="1" height="88" fill="#c0c0c0"/>
<rect x="803" y="653" width="1" height="87" fill="#c0c0c0"/>
<rect x="811" y="653" width="1" height="80" fill="#c0c0c0"/>
<rect x="819" y="653" width="1" height="58" fill="#c0c0c0"/>
<rect x="827" y="653" width="1" height="41" fill="#c0c0c0"/>
<rect x="835" y="653" width="1" height="21" fill="#c0c0c0"/>
<rect x="843" y="653" width="1" height="5" fill="#c0c0c0"/>
<rect x="851" y="646" width="1" height="8" fill="#c0c0c0"/>
<rect x="859" y="629" width="1" height="25" fill="#c0c0c0"/>
<rect x="867" y="625" width="1" height="29" fill="#c0c0c0"/>
<rect x="875" y="623" width="1" height="31" fill="#c0c0c0"/>
<rect x="883" y="624" width="1" height="30" fill="#c0c0c0"/>
<rect x="891" y="620" width="1" height="34" fill="#c0c0c0"/>
<rect x="899" y="622" width="1" height="32" fill="#c0c0c0"/>
<rect x="907" y="621" width="1" height="33" fill="#c0c0c0"/>
<rect x="915" y="619" width="1" height="35" fill="#c0c0c0"/>
<rect x="923" y="612" width="1" height="42" fill="#c0c0c0"/>
<rect x="931" y="610" width="1" height="44" fill="#c0c0c0"/>
<rect x="939" y="605" width="1" height="49" fill="#c0c0c0"/>
<rect x="947" y="602" width="1" height="52" fill="#c0c0c0"/>
<rect x="955" y="600" width="1" height="54" fill="#c0c0c0"/>
<rect x="963" y="599" width="1" height="55" fill="#c0c0c0"/>
<rect x="971" y="598" width="1" height="56" fill="#c0c0c0"/>
<rect x="979" y="604" width="1" height="50" fill="#c0c0c0"/>
<rect x="987" y="618" width="1" height="36" fill="#c0c0c0"/>
<rect x="995" y="633" width="1" height="21" fill="#c0c0c0"/>
<rect x="1003" y="648" width="1" height="6" fill="#c0c0c0"/>
<rect x="1011" y="652" width="1" height="2" fill="#c0c0c0"/>
<rect x="1019" y="653" width="1" height="8" fill="#c0c0c0"/>
<rect x="1027" y="653" width="1" height="10" fill="#c0c0c0"/>
<rect x="1035" y="653" width="1" height="6" fill="#c0c0c0"/>
<rect x="1043" y="653" width="1" height="10" fill="#c0c0c0"/>
<rect x="1051" y="653" width="1" height="8" fill="#c0c0c0"/>
<rect x="1059" y="653" width="1" height="1" fill="#c0c0c0"/>
<rect x="1067" y="642" width="1" height="12" fill="#c0c0c0"/>
<rect x="1075" y="638" width="1" height="16" fill="#c0c0c0"/>
<rect x="1083" y="640" width="1" height="14" fill="#c0c0c0"/>
<rect x="1091" y="637" width="1" height="17" fill="#c0c0c0"/>
<rect x="1099" y="625" width="1" height="29" fill="#c0c0c0"/>
<rect x="1107" y="620" width="1" height="34" fill="#c0c0c0"/>
<rect x="1115" y="613" width="1" height="41" fill="#c0c0c0"/>
<rect x="1123" y="609" width="1" height="45" fill="#c0c0c0"/>
<rect x="1131" y="603" width="1" height="51" fill="#c0c0c0"/>
<rect x="1139" y="598" width="1" height="56" fill="#c0c0c0"/>
<rect x="1147" y="598" width="1" height="56" fill="#c0c0c0"/>
<rect x="1155" y="603" width="1" height="51" fill="#c0c0c0"/>
<rect x="1163" y="610" width="1" height="44" fill="#c0c0c0"/>
<rect x="1171" y="623" width="1" height="31" fill="#c0c0c0"/>
<rect x="1179" y="633" width="1" height="21" fill="#c0c0c0"/>
<rect x="1187" y="637" width="1" height="17" fill="#c0c0c0"/>
<rect x="1195" y="639" width="1" height="15" fill="#c0c0c0"/>
<rect x="1203" y="639" width="1" height="15" fill="#c0c0c0"/>
<rect x="1211" y="646" width="1" height="8" fill="#c0c0c0"/>
<rect x="1219" y="647" width="1" height="7" fill="#c0c0c0"/>
<rect x="1227" y="645" width="1" height="9" fill="#c0c0c0"/>
<rect x="1235" y="645" width="1" height="9" fill="#c0c0c0"/>
<rect x="1243" y="649" width="1" height="5" fill="#c0c0c0"/>
<rect x="1251" y="650" width="1" height="4" fill="#c0c0c0"/>
<rect x="1259" y="652" width="1" height="2" fill="#c0c0c0"/>
<rect x="1267" y="646" width="1" height="8" fill="#c0c0c0"/>
<rect x="1275" y="640" width="1" height="14" fill="#c0c0c0"/>
<rect x="1283" y="637" width="1" height="17" fill="#c0c0c0"/>
<rect x="1291" y="632" width="1" height="22" fill="#c0c0c0"/>
<rect x="1299" y="636" width="1" height="18" fill="#c0c0c0"/>
<rect x="1307" y="635" width="1" height="19" fill="#c0c0c0"/>
<rect x="1315" y="629" width="1" height="25" fill="#c0c0c0"/>
<rect x="1323" y="625" width="1" height="29" fill="#c0c0c0"/>
<rect x="1331" y="620" width="1" height="34" fill="#c0c0c0"/>
<rect x="1339" y="617" width="1" height="37" fill="#c0c0c0"/>
<rect x="1347" y="608" width="1" height="46" fill="#c0c0c0"/>
<rect x="1355" y="601" width="1" height="53" fill="#c0c0c0"/>
<rect x="1363" y="596" width="1" height="58" fill="#c0c0c0"/>
<rect x="1371" y="593" width="1" height="61" fill="#c0c0c0"/>
<rect x="1379" y="592" width="1" height="62" fill="#c0c0c0"/>
</g>
<polyline points="0.0,642.4 14.2,636.7 28.4,631.6 42.5,626.8 53.9,623.9 65.2,618.3 76.6,614.6 85.1,613.5 99.2,614.0 113.4,617.4 124.8,624.8 136.1,635.3 147.4,649.5 158.8,663.6 170.1,676.4 181.5,684.9 192.8,692.6 204.1,696.2 215.5,701.9 226.8,706.7 238.2,711.8 249.5,716.1 260.8,720.9 272.2,725.2 283.5,725.2 292.0,722.3 300.5,714.7 311.9,703.3 320.4,692.0 328.9,677.8 337.4,665.1 345.9,651.4 354.4,638.1 362.9,628.2 371.4,619.7 379.9,616.3 391.3,615.4 402.6,617.4 413.9,624.8 425.3,632.5 436.6,640.1 448.0,643.8 459.3,645.8 470.7,645.2 480.0,643.2 491.3,640.4 508.4,636.1 522.5,629.6 536.7,622.5 550.9,620.5 565.1,621.7 579.2,625.4 593.4,632.5 607.6,642.4 621.8,652.3 635.9,663.6 650.1,677.8 664.3,693.4 678.5,709.0 692.6,725.2 704.0,734.5 715.3,739.3 726.7,738.8 738.0,735.9 749.4,733.1 757.9,729.4 772.0,727.4 786.2,726.6 797.6,726.9 804.6,730.3 814.6,731.1 823.1,727.4 834.4,721.2 845.8,710.4 857.1,694.8 868.4,677.8 876.9,660.8 885.4,649.5 896.8,636.7 905.3,630.5 919.5,623.1 933.7,617.4 947.8,614.6 960.0,609.8 968.5,606.9 977.0,604.7 988.4,605.0 999.7,608.9 1011.0,616.9 1022.4,625.9 1033.7,636.7 1045.1,646.6 1056.4,654.3 1067.7,656.6 1079.1,654.6 1090.4,651.7 1101.8,645.8 1113.1,638.1 1124.4,629.6 1135.8,622.5 1147.1,615.4 1158.5,609.8 1169.8,608.4 1181.2,609.8 1192.5,614.0 1203.8,619.7 1215.2,626.8 1226.5,633.9 1237.9,639.5 1249.2,642.9 1260.5,644.6 1271.9,645.2 1283.2,644.1 1294.6,642.4 1305.9,640.1 1320.1,637.3 1331.4,632.5 1342.8,626.8 1354.1,621.1 1365.4,615.4 1375.9,609.8" fill="none" stroke="#ff0000" stroke-width="1" stroke-dasharray="3,3.3" shape-rendering="crispEdges"/>
<g shape-rendering="crispEdges">
<line x1="0" y1="790.5" x2="1646" y2="790.5" stroke="#c0c0c0" stroke-width="1" stroke-dasharray="3,3"/>
<line x1="0" y1="841.5" x2="1646" y2="841.5" stroke="#c0c0c0" stroke-width="1" stroke-dasharray="3,3"/>
<line x1="0" y1="902.5" x2="1646" y2="902.5" stroke="#c0c0c0" stroke-width="1" stroke-dasharray="3,3"/>
</g>
<polyline points="0.0,827.0 3.5,830.2 11.5,824.6 19.5,823.1 27.5,838.5 35.5,830.2 43.5,828.0 51.5,816.6 59.5,807.3 67.5,815.2 75.5,840.2 83.5,843.0 91.5,845.5 99.5,848.7 107.5,845.5 115.5,853.5 123.5,862.0 131.5,864.3 139.5,869.1 147.5,864.8 155.5,872.5 163.5,866.2 171.5,851.5 179.5,847.2 187.5,849.2 195.5,851.5 203.5,861.4 211.5,871.9 219.5,874.2 227.5,881.3 235.5,870.5 243.5,858.6 251.5,846.4 259.5,854.3 267.5,850.7 275.5,849.2 283.5,852.6 291.5,838.5 299.5,824.3 307.5,829.4 315.5,816.1 323.5,820.3 331.5,825.4 339.5,818.0 347.5,824.3 355.5,828.5 363.5,841.3 371.5,845.0 379.5,848.7 387.5,844.4 395.5,844.1 403.5,845.8 411.5,851.2 419.5,840.2 427.5,842.4 435.5,835.3 443.5,842.1 451.5,837.3 459.5,832.5 467.5,831.4 475.5,830.2 483.5,829.4 491.5,832.2 499.5,844.4 507.5,830.8 515.5,818.3 523.5,818.3 531.5,819.5 539.5,820.6 547.5,850.1 555.5,855.5 563.5,854.3 571.5,855.5 579.5,838.7 587.5,843.3 595.5,845.5 603.5,848.4 611.5,848.4 619.5,857.2 627.5,867.7 635.5,874.2 643.5,877.6 651.5,878.4 659.5,880.4 667.5,871.4 675.5,873.3 683.5,866.2 691.5,868.5 699.5,863.4 707.5,867.1 715.5,869.4 723.5,854.3 731.5,849.5 739.5,851.2 747.5,865.7 755.5,869.4 763.5,869.4 771.5,868.2 779.5,877.6 787.5,868.5 795.5,876.5 803.5,864.0 811.5,853.5 819.5,831.4 827.5,829.4 835.5,823.7 843.5,823.1 851.5,821.2 859.5,814.6 867.5,831.4 875.5,831.4 883.5,836.5 891.5,829.7 899.5,836.5 907.5,832.8 915.5,829.1 923.5,821.4 931.5,829.4 939.5,823.4 947.5,823.1 955.5,824.6 963.5,823.4 971.5,823.4 979.5,832.8 987.5,853.5 995.5,857.7 1003.5,862.6 1011.5,847.5 1019.5,856.6 1027.5,847.8 1035.5,840.4 1043.5,847.5 1051.5,842.1 1059.5,832.2 1067.5,825.1 1075.5,833.9 1083.5,841.3 1091.5,834.2 1099.5,824.3 1107.5,829.7 1115.5,826.6 1123.5,827.1 1131.5,823.4 1139.5,822.3 1147.5,827.4 1155.5,835.1 1163.5,840.7 1171.5,851.2 1179.5,849.2 1187.5,843.0 1195.5,840.2 1203.5,838.2 1211.5,848.4 1219.5,842.1 1227.5,836.2 1235.5,840.4 1243.5,844.7 1251.5,841.3 1259.5,846.7 1267.5,832.8 1275.5,829.1 1283.5,831.4 1291.5,827.1 1299.5,843.6 1307.5,834.2 1315.5,828.3 1323.5,826.0 1331.5,824.6 1339.5,824.3 1347.5,816.9 1355.5,815.2 1363.5,814.4 1371.5,815.8 1379.5,818.0" fill="none" stroke="#1e90ff" stroke-width="1" shape-rendering="crispEdges"/>
<g shape-rendering="crispEdges" fill="#000">
<rect x="0" y="27" width="1647" height="1"/>
<rect x="1646" y="27" width="1" height="554"/>
<rect x="0" y="580" width="1647" height="1"/>
<rect x="0" y="582" width="1647" height="1"/>
<rect x="1646" y="582" width="1" height="171"/>
<rect x="0" y="752" width="1647" height="1"/>
<rect x="0" y="754" width="1647" height="1"/>
<rect x="1646" y="754" width="1" height="175"/>
<rect x="0" y="928" width="1647" height="1"/>
<rect x="1647" y="49" width="2" height="1"/>
<rect x="1647" y="82" width="2" height="1"/>
<rect x="1647" y="115" width="2" height="1"/>
<rect x="1647" y="148" width="2" height="1"/>
<rect x="1647" y="181" width="2" height="1"/>
<rect x="1647" y="214" width="2" height="1"/>
<rect x="1647" y="247" width="2" height="1"/>
<rect x="1647" y="280" width="2" height="1"/>
<rect x="1647" y="313" width="2" height="1"/>
<rect x="1647" y="346" width="2" height="1"/>
<rect x="1647" y="379" width="2" height="1"/>
<rect x="1647" y="412" width="2" height="1"/>
<rect x="1647" y="445" width="2" height="1"/>
<rect x="1647" y="478" width="2" height="1"/>
<rect x="1647" y="511" width="2" height="1"/>
<rect x="1647" y="544" width="2" height="1"/>
<rect x="1647" y="577" width="2" height="1"/>
<rect x="1647" y="584" width="2" height="1"/>
<rect x="1647" y="653" width="2" height="1"/>
<rect x="1647" y="750" width="2" height="1"/>
<rect x="1647" y="756" width="2" height="1"/>
<rect x="1647" y="790" width="2" height="1"/>
<rect x="1647" y="841" width="2" height="1"/>
<rect x="1647" y="902" width="2" height="1"/>
<rect x="1647" y="926" width="2" height="1"/>
<rect x="51" y="929" width="1" height="3"/>
<rect x="115" y="929" width="1" height="3"/>
<rect x="179" y="929" width="1" height="3"/>
<rect x="243" y="929" width="1" height="3"/>
<rect x="307" y="929" width="1" height="3"/>
<rect x="371" y="929" width="1" height="3"/>
<rect x="435" y="929" width="1" height="3"/>
<rect x="499" y="929" width="1" height="3"/>
<rect x="563" y="929" width="1" height="3"/>
<rect x="627" y="929" width="1" height="3"/>
<rect x="691" y="929" width="1" height="3"/>
<rect x="755" y="929" width="1" height="3"/>
<rect x="819" y="929" width="1" height="3"/>
<rect x="883" y="929" width="1" height="3"/>
<rect x="947" y="929" width="1" height="3"/>
<rect x="1011" y="929" width="1" height="3"/>
<rect x="1075" y="929" width="1" height="3"/>
<rect x="1139" y="929" width="1" height="3"/>
<rect x="1203" y="929" width="1" height="3"/>
<rect x="1267" y="929" width="1" height="3"/>
<rect x="1331" y="929" width="1" height="3"/>
</g>
<text x="1651.7" y="53" font-size="9.8" fill="#000" text-anchor="start" text-rendering="geometricPrecision" textLength="33.6" lengthAdjust="spacingAndGlyphs">27766.0</text>
<text x="1651.7" y="86" font-size="9.8" fill="#000" text-anchor="start" text-rendering="geometricPrecision" textLength="33.6" lengthAdjust="spacingAndGlyphs">27626.0</text>
<text x="1651.7" y="119" font-size="9.8" fill="#000" text-anchor="start" text-rendering="geometricPrecision" textLength="33.6" lengthAdjust="spacingAndGlyphs">27482.0</text>
<text x="1651.7" y="152" font-size="9.8" fill="#000" text-anchor="start" text-rendering="geometricPrecision" textLength="33.6" lengthAdjust="spacingAndGlyphs">27338.0</text>
<text x="1651.7" y="185" font-size="9.8" fill="#000" text-anchor="start" text-rendering="geometricPrecision" textLength="33.6" lengthAdjust="spacingAndGlyphs">27194.0</text>
<text x="1651.7" y="218" font-size="9.8" fill="#000" text-anchor="start" text-rendering="geometricPrecision" textLength="33.6" lengthAdjust="spacingAndGlyphs">27050.0</text>
<text x="1651.7" y="251" font-size="9.8" fill="#000" text-anchor="start" text-rendering="geometricPrecision" textLength="33.6" lengthAdjust="spacingAndGlyphs">26910.0</text>
<text x="1651.7" y="284" font-size="9.8" fill="#000" text-anchor="start" text-rendering="geometricPrecision" textLength="33.6" lengthAdjust="spacingAndGlyphs">26766.0</text>
<text x="1651.7" y="317" font-size="9.8" fill="#000" text-anchor="start" text-rendering="geometricPrecision" textLength="33.6" lengthAdjust="spacingAndGlyphs">26622.0</text>
<text x="1651.7" y="350" font-size="9.8" fill="#000" text-anchor="start" text-rendering="geometricPrecision" textLength="33.6" lengthAdjust="spacingAndGlyphs">26478.0</text>
<text x="1651.7" y="383" font-size="9.8" fill="#000" text-anchor="start" text-rendering="geometricPrecision" textLength="33.6" lengthAdjust="spacingAndGlyphs">26334.0</text>
<text x="1651.7" y="416" font-size="9.8" fill="#000" text-anchor="start" text-rendering="geometricPrecision" textLength="33.6" lengthAdjust="spacingAndGlyphs">26194.0</text>
<text x="1651.7" y="449" font-size="9.8" fill="#000" text-anchor="start" text-rendering="geometricPrecision" textLength="33.6" lengthAdjust="spacingAndGlyphs">26050.0</text>
<text x="1651.7" y="482" font-size="9.8" fill="#000" text-anchor="start" text-rendering="geometricPrecision" textLength="33.6" lengthAdjust="spacingAndGlyphs">25906.0</text>
<text x="1651.7" y="515" font-size="9.8" fill="#000" text-anchor="start" text-rendering="geometricPrecision" textLength="33.6" lengthAdjust="spacingAndGlyphs">25762.0</text>
<text x="1651.7" y="548" font-size="9.8" fill="#000" text-anchor="start" text-rendering="geometricPrecision" textLength="33.6" lengthAdjust="spacingAndGlyphs">25618.0</text>
<text x="1651.7" y="581" font-size="9.8" fill="#000" text-anchor="start" text-rendering="geometricPrecision" textLength="33.6" lengthAdjust="spacingAndGlyphs">25478.0</text>
<g shape-rendering="crispEdges">
<rect x="1648" y="89" width="41" height="11" fill="#ff0000"/>
<rect x="1641" y="93" width="5" height="5" fill="#ff0000"/><rect x="1642" y="94" width="3" height="3" fill="#fff"/>
<rect x="1648" y="115" width="41" height="11" fill="#ff0000"/>
<rect x="1641" y="119" width="5" height="5" fill="#ff0000"/><rect x="1642" y="120" width="3" height="3" fill="#fff"/>
<rect x="1648" y="143" width="41" height="11" fill="#000000"/>
<rect x="1648" y="157" width="41" height="11" fill="#32cd32"/>
<rect x="1641" y="161" width="5" height="5" fill="#32cd32"/><rect x="1642" y="162" width="3" height="3" fill="#fff"/>
<rect x="1648" y="183" width="41" height="11" fill="#0000ff"/>
<rect x="1641" y="187" width="5" height="5" fill="#0000ff"/><rect x="1642" y="188" width="3" height="3" fill="#fff"/>
<rect x="1648" y="208" width="41" height="11" fill="#0000ff"/>
<rect x="1641" y="212" width="5" height="5" fill="#0000ff"/><rect x="1642" y="213" width="3" height="3" fill="#fff"/>
</g>
<text x="1651.8" y="98" font-size="9.8" fill="#fff" text-anchor="start" text-rendering="geometricPrecision" textLength="33.6" lengthAdjust="spacingAndGlyphs">27566.8</text>
<text x="1651.8" y="124" font-size="9.8" fill="#fff" text-anchor="start" text-rendering="geometricPrecision" textLength="33.6" lengthAdjust="spacingAndGlyphs">27454.2</text>
<text x="1651.8" y="152" font-size="9.8" fill="#fff" text-anchor="start" text-rendering="geometricPrecision" textLength="33.6" lengthAdjust="spacingAndGlyphs">27340.0</text>
<text x="1651.8" y="166" font-size="9.8" fill="#fff" text-anchor="start" text-rendering="geometricPrecision" textLength="33.6" lengthAdjust="spacingAndGlyphs">27272.2</text>
<text x="1651.8" y="192" font-size="9.8" fill="#fff" text-anchor="start" text-rendering="geometricPrecision" textLength="33.6" lengthAdjust="spacingAndGlyphs">27159.6</text>
<text x="1651.8" y="217" font-size="9.8" fill="#fff" text-anchor="start" text-rendering="geometricPrecision" textLength="33.6" lengthAdjust="spacingAndGlyphs">27051.3</text>
<text x="1650.4" y="593" font-size="9.8" fill="#000" text-anchor="start" text-rendering="geometricPrecision" textLength="28" lengthAdjust="spacingAndGlyphs">182.29</text>
<text x="1650.4" y="657" font-size="9.8" fill="#000" text-anchor="start" text-rendering="geometricPrecision" textLength="19" lengthAdjust="spacingAndGlyphs">0.00</text>
<text x="1650" y="749" font-size="9.8" fill="#000" text-anchor="start" text-rendering="geometricPrecision" textLength="31" lengthAdjust="spacingAndGlyphs">-260.79</text>
<text x="1650.4" y="765" font-size="9.8" fill="#000" text-anchor="start" text-rendering="geometricPrecision" textLength="14.5" lengthAdjust="spacingAndGlyphs">100</text>
<text x="1650.4" y="794" font-size="9.8" fill="#000" text-anchor="start" text-rendering="geometricPrecision" textLength="10" lengthAdjust="spacingAndGlyphs">80</text>
<text x="1650.4" y="845" font-size="9.8" fill="#000" text-anchor="start" text-rendering="geometricPrecision" textLength="10" lengthAdjust="spacingAndGlyphs">50</text>
<text x="1650.4" y="906" font-size="9.8" fill="#000" text-anchor="start" text-rendering="geometricPrecision" textLength="10" lengthAdjust="spacingAndGlyphs">15</text>
<text x="1650.4" y="925" font-size="9.8" fill="#000" text-anchor="start" text-rendering="geometricPrecision" textLength="5" lengthAdjust="spacingAndGlyphs">0</text>
<text transform="translate(119,594.5) scale(0.959,1)" font-size="9.8" fill="#000" text-anchor="end" text-rendering="geometricPrecision">MACD(12,26,9) 162.15 118.45</text>
<text transform="translate(59,767) scale(0.959,1)" font-size="9.8" fill="#000" text-anchor="end" text-rendering="geometricPrecision">RSI(14) 64.4999</text>
<text x="2" y="39" font-size="9.8" fill="#000" text-anchor="start" text-rendering="geometricPrecision" textLength="197" lengthAdjust="spacingAndGlyphs">JPN225-,H4&#160;&#160;27342.5 27345.0 27332.5 27340.0</text>
<text transform="translate(37,941.3) scale(0.959,1)" font-size="9.8" fill="#000" text-anchor="end" text-rendering="geometricPrecision">20 Apr 2022</text>
<text transform="translate(50.5,941.3) scale(0.959,1)" font-size="9.8" fill="#000" text-anchor="start" text-rendering="geometricPrecision">21 Apr 00:00</text>
<text transform="translate(114.5,941.3) scale(0.959,1)" font-size="9.8" fill="#000" text-anchor="start" text-rendering="geometricPrecision">22 Apr 10:55</text>
<text transform="translate(178.5,941.3) scale(0.959,1)" font-size="9.8" fill="#000" text-anchor="start" text-rendering="geometricPrecision">25 Apr 18:55</text>
<text transform="translate(242.5,941.3) scale(0.959,1)" font-size="9.8" fill="#000" text-anchor="start" text-rendering="geometricPrecision">27 Apr 00:00</text>
<text transform="translate(306.5,941.3) scale(0.959,1)" font-size="9.8" fill="#000" text-anchor="start" text-rendering="geometricPrecision">28 Apr 10:55</text>
<text transform="translate(370.5,941.3) scale(0.959,1)" font-size="9.8" fill="#000" text-anchor="start" text-rendering="geometricPrecision">29 Apr 18:55</text>
<text transform="translate(434.5,941.3) scale(0.959,1)" font-size="9.8" fill="#000" text-anchor="start" text-rendering="geometricPrecision">3 May 00:00</text>
<text transform="translate(498.5,941.3) scale(0.959,1)" font-size="9.8" fill="#000" text-anchor="start" text-rendering="geometricPrecision">4 May 10:55</text>
<text transform="translate(562.5,941.3) scale(0.959,1)" font-size="9.8" fill="#000" text-anchor="start" text-rendering="geometricPrecision">5 May 18:55</text>
<text transform="translate(626.5,941.3) scale(0.959,1)" font-size="9.8" fill="#000" text-anchor="start" text-rendering="geometricPrecision">9 May 00:00</text>
<text transform="translate(690.5,941.3) scale(0.959,1)" font-size="9.8" fill="#000" text-anchor="start" text-rendering="geometricPrecision">10 May 10:55</text>
<text transform="translate(754.5,941.3) scale(0.959,1)" font-size="9.8" fill="#000" text-anchor="start" text-rendering="geometricPrecision">11 May 18:55</text>
<text transform="translate(818.5,941.3) scale(0.959,1)" font-size="9.8" fill="#000" text-anchor="start" text-rendering="geometricPrecision">13 May 00:00</text>
<text transform="translate(882.5,941.3) scale(0.959,1)" font-size="9.8" fill="#000" text-anchor="start" text-rendering="geometricPrecision">16 May 10:55</text>
<text transform="translate(946.5,941.3) scale(0.959,1)" font-size="9.8" fill="#000" text-anchor="start" text-rendering="geometricPrecision">17 May 18:55</text>
<text transform="translate(1010.5,941.3) scale(0.959,1)" font-size="9.8" fill="#000" text-anchor="start" text-rendering="geometricPrecision">19 May 00:00</text>
<text transform="translate(1074.5,941.3) scale(0.959,1)" font-size="9.8" fill="#000" text-anchor="start" text-rendering="geometricPrecision">20 May 10:55</text>
<text transform="translate(1138.5,941.3) scale(0.959,1)" font-size="9.8" fill="#000" text-anchor="start" text-rendering="geometricPrecision">23 May 18:55</text>
<text transform="translate(1202.5,941.3) scale(0.959,1)" font-size="9.8" fill="#000" text-anchor="start" text-rendering="geometricPrecision">25 May 00:00</text>
<text transform="translate(1266.5,941.3) scale(0.959,1)" font-size="9.8" fill="#000" text-anchor="start" text-rendering="geometricPrecision">26 May 10:55</text>
<text transform="translate(1330.5,941.3) scale(0.959,1)" font-size="9.8" fill="#000" text-anchor="start" text-rendering="geometricPrecision">27 May 18:55</text>
<polygon points="1391,28 1400,28 1395.5,32.6" fill="#c0c0c0"/>
</svg>
<svg width="1693" height="28" viewBox="0 0 1693 28">
<rect x="0" y="0" width="1693" height="23" fill="#f0f0f0"/>
<rect x="0" y="22" width="1693" height="1" fill="#f5f5f5"/>
<rect x="0" y="23" width="1693" height="1" fill="#b6b6b6"/>
<rect x="0" y="24" width="1693" height="1" fill="#6e6e6e"/>
<rect x="0" y="25" width="1693" height="2" fill="#ffffff"/>
<rect x="335" y="1" width="24" height="20" fill="#f8f8f8"/>
<rect x="487" y="1" width="24" height="20" fill="#f8f8f8"/>
<rect x="515" y="1" width="24" height="20" fill="#f8f8f8"/>
<rect x="675" y="1" width="24" height="20" fill="#f8f8f8"/>
<rect x="1121" y="1" width="25" height="20" fill="#f8f8f8"/>
<rect x="7" y="0" width="1" height="21" fill="#a0a0a0"/>
<rect x="296" y="0" width="1" height="23" fill="#a0a0a0"/>
<rect x="297" y="0" width="1" height="23" fill="#ffffff"/>
<rect x="300" y="1" width="3" height="1" fill="#b4b4b4"/>
<rect x="300" y="3" width="3" height="1" fill="#b4b4b4"/>
<rect x="300" y="5" width="3" height="1" fill="#b4b4b4"/>
<rect x="300" y="7" width="3" height="1" fill="#b4b4b4"/>
<rect x="300" y="9" width="3" height="1" fill="#b4b4b4"/>
<rect x="300" y="11" width="3" height="1" fill="#b4b4b4"/>
<rect x="300" y="13" width="3" height="1" fill="#b4b4b4"/>
<rect x="300" y="15" width="3" height="1" fill="#b4b4b4"/>
<rect x="300" y="17" width="3" height="1" fill="#b4b4b4"/>
<rect x="300" y="19" width="3" height="1" fill="#b4b4b4"/>
<rect x="334" y="0" width="1" height="21" fill="#a0a0a0"/>
<rect x="391" y="0" width="1" height="21" fill="#a0a0a0"/>
<rect x="481" y="0" width="1" height="21" fill="#a0a0a0"/>
<rect x="486" y="0" width="1" height="21" fill="#a0a0a0"/>
<rect x="514" y="0" width="1" height="21" fill="#a0a0a0"/>
<rect x="543" y="0" width="1" height="21" fill="#a0a0a0"/>
<rect x="664" y="0" width="1" height="23" fill="#a0a0a0"/>
<rect x="665" y="0" width="1" height="23" fill="#ffffff"/>
<rect x="668" y="1" width="3" height="1" fill="#b4b4b4"/>
<rect x="668" y="3" width="3" height="1" fill="#b4b4b4"/>
<rect x="668" y="5" width="3" height="1" fill="#b4b4b4"/>
<rect x="668" y="7" width="3" height="1" fill="#b4b4b4"/>
<rect x="668" y="9" width="3" height="1" fill="#b4b4b4"/>
<rect x="668" y="11" width="3" height="1" fill="#b4b4b4"/>
<rect x="668" y="13" width="3" height="1" fill="#b4b4b4"/>
<rect x="668" y="15" width="3" height="1" fill="#b4b4b4"/>
<rect x="668" y="17" width="3" height="1" fill="#b4b4b4"/>
<rect x="668" y="19" width="3" height="1" fill="#b4b4b4"/>
<rect x="674" y="0" width="1" height="21" fill="#a0a0a0"/>
<rect x="731" y="0" width="1" height="21" fill="#a0a0a0"/>
<rect x="970" y="0" width="1" height="23" fill="#a0a0a0"/>
<rect x="971" y="0" width="1" height="23" fill="#ffffff"/>
<rect x="974" y="1" width="3" height="1" fill="#b4b4b4"/>
<rect x="974" y="3" width="3" height="1" fill="#b4b4b4"/>
<rect x="974" y="5" width="3" height="1" fill="#b4b4b4"/>
<rect x="974" y="7" width="3" height="1" fill="#b4b4b4"/>
<rect x="974" y="9" width="3" height="1" fill="#b4b4b4"/>
<rect x="974" y="11" width="3" height="1" fill="#b4b4b4"/>
<rect x="974" y="13" width="3" height="1" fill="#b4b4b4"/>
<rect x="974" y="15" width="3" height="1" fill="#b4b4b4"/>
<rect x="974" y="17" width="3" height="1" fill="#b4b4b4"/>
<rect x="974" y="19" width="3" height="1" fill="#b4b4b4"/>
<rect x="1120" y="0" width="1" height="21" fill="#a0a0a0"/>
<rect x="1231" y="0" width="1" height="21" fill="#a0a0a0"/>
<path d="M18,3.5 h6.5 l3,3 v9.5 h-9.5 a1,1 0 0 1 -1,-1 v-11.5 z" fill="#fff" stroke="#707070" stroke-width="1"/>
<path d="M24.5,3.5 v3 h3" fill="#e8e8e8" stroke="#8a8a8a" stroke-width="0.8"/>
<rect x="19" y="5.5" width="3" height="1.2" fill="#808080"/><rect x="19" y="8.5" width="6" height="1" fill="#9a9a9a"/><rect x="19" y="10.5" width="5" height="1" fill="#9a9a9a"/>
<path d="M25,9.5 h4 v4 h4 v4 h-4 v4 h-4 v-4 h-4 v-4 h4 z" fill="#1ec81e" stroke="#0a8a0a" stroke-width="0.9"/>
<path d="M26,10.5 h2 v4 h4 v1 h-10 v-1 h4 z" fill="#6aee6a" opacity="0.7"/>
<path d="M554,3.5 h6.5 l3,3 v9.5 h-9.5 a1,1 0 0 1 -1,-1 v-11.5 z" fill="#fff" stroke="#707070" stroke-width="1"/>
<path d="M560.5,3.5 v3 h3" fill="#e8e8e8" stroke="#8a8a8a" stroke-width="0.8"/>
<path d="M557.5,6 q-1.5,0 -1.5,1.5 v1.5 q0,1 -1,1 q1,0 1,1 v1.5 q0,1.5 1.5,1.5" fill="none" stroke="#555" stroke-width="0.9"/>
<path d="M561,9.5 h4 v4 h4 v4 h-4 v4 h-4 v-4 h-4 v-4 h4 z" fill="#1ec81e" stroke="#0a8a0a" stroke-width="0.9"/>
<path d="M562,10.5 h2 v4 h4 v1 h-10 v-1 h4 z" fill="#6aee6a" opacity="0.7"/>
<path d="M118.6,4.2 L129,11.8 L120.8,18.8 L112.8,12.8 Q114.5,10.5 115.5,7 Q116.5,5 118.6,4.2 z" fill="#e8b422" stroke="#a06a10" stroke-width="1"/>
<path d="M118.8,5.8 Q117,6.6 116.6,8.2 L115,12 L117,13.4 L121.4,7.6 z" fill="#f7dc70"/>
<path d="M121.2,17.6 L128.4,11.6" fill="none" stroke="#fff2c0" stroke-width="1"/>
<path d="M113.4,13.6 L120.8,19 L129,12.2" fill="none" stroke="#a8721a" stroke-width="1"/>
<path d="M143.5,3.5 h8 l2.5,1.5 v8 h-8.5 l-2,-1.5 z" fill="#1e90ff" stroke="#0b63c8" stroke-width="0.8"/>
<path d="M146,5 h7.5 v7.5 h-7.5 z" fill="#3aa5ff"/><rect x="147.5" y="7" width="4.5" height="1.2" fill="#cfe8ff"/>
<path d="M144.2,18.4 a2.6,2.6 0 0 1 0.2,-5 a3.2,3.2 0 0 1 6,-0.6 a3,3 0 0 1 4.9,1.8 a2,2 0 0 1 -0.6,3.8 z" fill="#eef3fb" stroke="#4a78c0" stroke-width="1"/>
<circle cx="177" cy="11" r="7.4" fill="#e4eef0" stroke="none"/>
<path d="M177,11 v7.4 a7.4,7.4 0 0 0 7.4,-7.4 a7.4,7.4 0 0 0 -3,-6 z" fill="#8fc79a" opacity="0.8"/>
<path d="M177,3.6 a7.4,7.4 0 0 0 0,14.8" fill="none" stroke="#3a6ee0" stroke-width="1"/>
<path d="M177,3.6 a7.4,7.4 0 0 1 7.4,7.4 a7.4,7.4 0 0 1 -7.4,7.4" fill="none" stroke="#7a9ab8" stroke-width="1"/>
<circle cx="177" cy="11" r="4.6" fill="none" stroke="#5a86e0" stroke-width="0.9"/>
<rect x="176.6" y="11" width="1.4" height="7.6" fill="#2aa52a"/>
<circle cx="177" cy="10.4" r="1.45" fill="#1f4fd8"/>
<path d="M198,10 l7.5,8.5 l6,-8.5 z" fill="#f2cf4a" stroke="#d0a020" stroke-width="0.6"/>
<ellipse cx="204" cy="8.2" rx="8" ry="2.6" fill="#3f9ad6" stroke="#2a78b0" stroke-width="0.6"/>
<path d="M199.5,8 q0.5,-5 4.5,-5 q4,0 4.5,5 z" fill="#57aee6" stroke="#2a78b0" stroke-width="0.6"/>
<circle cx="208.3" cy="15" r="4" fill="#e02810" stroke="#b01808" stroke-width="0.6"/><rect x="206.6" y="13.3" width="3.4" height="3.4" fill="#fff"/>
<path d="M314.4,18.8 V6.5 M311.79999999999995,16.4 H324.4" fill="none" stroke="#585858" stroke-width="1.05"/>
<path d="M312.4,8 L314.4,4.9 L316.4,8 z M323.2,14.5 L326.29999999999995,16.4 L323.2,18.3 z" fill="#585858"/>
<path d="M320.5,6.2 V14.6 M320.5,7 H323 M318,13.3 H320.5" fill="none" stroke="#1a8a1a" stroke-width="1.4"/>
<path d="M342.5,18.8 V6.5 M339.9,16.4 H352.5" fill="none" stroke="#585858" stroke-width="1.05"/>
<path d="M340.5,8 L342.5,4.9 L344.5,8 z M351.3,14.5 L354.4,16.4 L351.3,18.3 z" fill="#585858"/>
<rect x="348" y="3" width="1.1" height="11.6" fill="#108010"/><rect x="346.3" y="5.6" width="4.5" height="7" fill="#3ad83a" stroke="#108010" stroke-width="0.9"/>
<path d="M370.4,18.8 V6.5 M367.79999999999995,16.4 H380.4" fill="none" stroke="#585858" stroke-width="1.05"/>
<path d="M368.4,8 L370.4,4.9 L372.4,8 z M379.2,14.5 L382.29999999999995,16.4 L379.2,18.3 z" fill="#585858"/>
<path d="M369,13.6 Q373,8 375.2,8.1 Q377,8.2 380.6,12" fill="none" stroke="#1a8a1a" stroke-width="1.3"/>
<path d="M494.4,18.8 V6.5 M491.79999999999995,16.4 H504.4" fill="none" stroke="#585858" stroke-width="1.05"/>
<path d="M492.4,8 L494.4,4.9 L496.4,8 z M503.2,14.5 L506.29999999999995,16.4 L503.2,18.3 z" fill="#585858"/>
<path d="M499,7.2 L503,10.5 L499,13.9 z" fill="#5adc5a" stroke="#0f8f0f" stroke-width="0.9"/>
<path d="M522.4,18.8 V6.5 M519.8,16.4 H532.4" fill="none" stroke="#585858" stroke-width="1.05"/>
<path d="M520.4,8 L522.4,4.9 L524.4,8 z M531.1999999999999,14.5 L534.3,16.4 L531.1999999999999,18.3 z" fill="#585858"/>
<rect x="527.9" y="4.9" width="1.2" height="9.8" fill="#1a6fb0"/>
<path d="M529.6,10.4 L532.6,8.2 L532,10 L534.2,10 V10.9 L532,10.9 L532.6,12.6 z" fill="#e0560a"/>
<line x1="409.9" y1="13.3" x2="414.9" y2="17.9" stroke="#9a7a00" stroke-width="3.4" stroke-linecap="round"/>
<line x1="409.9" y1="13.3" x2="414.9" y2="17.9" stroke="#e6c21e" stroke-width="2.2" stroke-linecap="round"/>
<circle cx="405.9" cy="9.1" r="5.6" fill="#d6eefb" stroke="#2a7fc8" stroke-width="1.2"/>
<rect x="402.7" y="8.4" width="6.4" height="1.5" fill="#3a86b0"/>
<rect x="405.15" y="5.9" width="1.5" height="6.4" fill="#3a86b0"/>
<line x1="438.2" y1="13.3" x2="443.2" y2="17.9" stroke="#9a7a00" stroke-width="3.4" stroke-linecap="round"/>
<line x1="438.2" y1="13.3" x2="443.2" y2="17.9" stroke="#e6c21e" stroke-width="2.2" stroke-linecap="round"/>
<circle cx="434.2" cy="9.1" r="5.6" fill="#d6eefb" stroke="#2a7fc8" stroke-width="1.2"/>
<rect x="431.0" y="8.4" width="6.4" height="1.5" fill="#3a86b0"/>
<rect x="456" y="3" width="8" height="8" fill="#3d9e1c"/><rect x="457.2" y="6" width="5.6" height="4" fill="#fff"/><rect x="458.2" y="7.4" width="3.6" height="0.9" fill="#7ed05a"/><rect x="457" y="4" width="1" height="1" fill="#fff" opacity="0.8"/>
<rect x="464" y="3" width="8" height="8" fill="#1f4fc8"/><rect x="465.2" y="6" width="5.6" height="4" fill="#fff"/><rect x="466.2" y="7.4" width="3.6" height="0.9" fill="#86a8f0"/><rect x="465" y="4" width="1" height="1" fill="#fff" opacity="0.8"/>
<rect x="456" y="11" width="8" height="8" fill="#1f4fc8"/><rect x="457.2" y="14" width="5.6" height="4" fill="#fff"/><rect x="458.2" y="15.4" width="3.6" height="0.9" fill="#86a8f0"/><rect x="457" y="12" width="1" height="1" fill="#fff" opacity="0.8"/>
<rect x="464" y="11" width="8" height="8" fill="#3d9e1c"/><rect x="465.2" y="14" width="5.6" height="4" fill="#fff"/><rect x="466.2" y="15.4" width="3.6" height="0.9" fill="#7ed05a"/><rect x="465" y="12" width="1" height="1" fill="#fff" opacity="0.8"/>
<path d="M575,10 h5.2 l-2.6,3 z" fill="#000"/>
<path d="M614,10 h5.2 l-2.6,3 z" fill="#000"/>
<path d="M653,10 h5.2 l-2.6,3 z" fill="#000"/>
<path d="M959,10 h5.2 l-2.6,3 z" fill="#000"/>
<circle cx="599" cy="11" r="6.9" fill="#fff" stroke="#1868d2" stroke-width="2.1"/>
<circle cx="599" cy="11" r="7.9" fill="none" stroke="#0d4aa8" stroke-width="0.5"/>
<path d="M598.6,7.5 V11.3 H601.6" fill="none" stroke="#222" stroke-width="1.1"/>
<rect x="597.8" y="13.3" width="2.6" height="0.8" fill="#6aa8f0"/>
<rect x="630.5" y="4.4" width="15.2" height="13.2" fill="#fff" stroke="#2a6fd0" stroke-width="1.1"/>
<rect x="631" y="4.9" width="14.2" height="2" fill="#5a96e6"/><rect x="631" y="11.2" width="14.2" height="0.9" fill="#2a6fd0"/>
<path d="M632.5,10 h1.8 l1.6,-1 h1.4 l1.6,-1 h1.2 l1.4,1 h1.6 l1.4,-0.9" fill="none" stroke="#a02810" stroke-width="1.2"/>
<path d="M633,15.4 h1.6 l1.4,-0.9 l1.6,0.9 h1.2 l2,-1.9 l1.6,0.6 l1.6,1.4" fill="none" stroke="#148a14" stroke-width="1.2"/>
<path d="M682,3.9 V15.4 L684.7,13 L687.4,18 L689,17.1 L686.4,12.1 L689.9,11.7 z" fill="#4a4a4a"/>
<path d="M707,11.6 H713.4 M715.6,11.6 H722 M714.5,4.2 V10.5 M714.5,12.7 V18.8" stroke="#4a4a4a" stroke-width="1.1" fill="none"/><rect x="714.2" y="11.3" width="0.6" height="0.6" fill="#4a4a4a"/>
<line x1="748.4" y1="5.2" x2="748.4" y2="17.9" stroke="#4a4a4a" stroke-width="1.3"/>
<line x1="770.8" y1="11.6" x2="782.9" y2="11.6" stroke="#4a4a4a" stroke-width="1.3"/>
<line x1="798.8" y1="17.9" x2="811.1" y2="5.8" stroke="#4a4a4a" stroke-width="1.2"/>
<path d="M824.8,12.5 L832.5,5 M826,17.2 L839,9.3 M830.5,17.8 L838.5,10.5 M827.5,15.5 L828.5,9.5 L831.5,13 L832.5,7 L835.5,11 L836.5,3.5 L837.6,9" stroke="#4a4a4a" stroke-width="1.15" fill="none"/>
<text x="835.6" y="19.6" font-size="6.6" font-weight="bold" fill="#333">E</text>
<line x1="854" y1="4.5" x2="867" y2="4.5" stroke="#4a4a4a" stroke-width="1.3" stroke-dasharray="1,1"/>
<line x1="854" y1="7.5" x2="867" y2="7.5" stroke="#4a4a4a" stroke-width="1.3" stroke-dasharray="1,1"/>
<line x1="854" y1="11.6" x2="867" y2="11.6" stroke="#4a4a4a" stroke-width="1.3" stroke-dasharray="1,1"/>
<line x1="854" y1="15.5" x2="863" y2="15.5" stroke="#4a4a4a" stroke-width="1.3" stroke-dasharray="1,1"/>
<text x="863.6" y="19.6" font-size="6.6" font-weight="bold" fill="#333">F</text>
<text x="884.3" y="15.9" font-size="12.8" font-weight="bold" fill="#505050" textLength="8.4" lengthAdjust="spacingAndGlyphs">A</text>
<rect x="911.4" y="5.4" width="11.4" height="12" fill="none" stroke="#4a4a4a" stroke-width="1" stroke-dasharray="1,1"/>
<text x="913" y="15.6" font-size="10.6" font-weight="bold" fill="#505050" textLength="7.8" lengthAdjust="spacingAndGlyphs">T</text>
<path d="M941.5,5 L945,8 L941.5,10.4 L938,8 z M948.6,17.8 L952.2,14.6 L948.6,12.4 L945,14.6 z" fill="#4a4a4a"/>
<path d="M940.2,12.6 L942.4,14.4 L947,9.2" fill="none" stroke="#4a4a4a" stroke-width="1.1"/>
<text x="985.8" y="15" font-size="9.8" fill="#3c3c3c" textLength="12.5" lengthAdjust="spacingAndGlyphs">M1</text>
<text x="1013.4" y="15" font-size="9.8" fill="#3c3c3c" textLength="13.0" lengthAdjust="spacingAndGlyphs">M5</text>
<text x="1039.5" y="15" font-size="9.8" fill="#3c3c3c" textLength="18.0" lengthAdjust="spacingAndGlyphs">M15</text>
<text x="1067.6" y="15" font-size="9.8" fill="#3c3c3c" textLength="18.1" lengthAdjust="spacingAndGlyphs">M30</text>
<text x="1098.7" y="15" font-size="9.8" fill="#3c3c3c" textLength="11.5" lengthAdjust="spacingAndGlyphs">H1</text>
<text x="1125.8" y="15" font-size="9.8" fill="#3c3c3c" textLength="12.1" lengthAdjust="spacingAndGlyphs">H4</text>
<text x="1154.5" y="15" font-size="9.8" fill="#3c3c3c" textLength="11.5" lengthAdjust="spacingAndGlyphs">D1</text>
<text x="1182" y="15" font-size="9.8" fill="#3c3c3c" textLength="14.0" lengthAdjust="spacingAndGlyphs">W1</text>
<text x="1208.8" y="15" font-size="9.8" fill="#3c3c3c" textLength="14.4" lengthAdjust="spacingAndGlyphs">MN</text>
<text x="36.6" y="13.6" font-size="12.3" fill="#000" textLength="64.4" lengthAdjust="spacingAndGlyphs">New Order</text>
<text x="217" y="13.6" font-size="12.3" fill="#000" textLength="71.6" lengthAdjust="spacingAndGlyphs">AutoTrading</text>
<circle cx="1648.3" cy="8.2" r="3.9" fill="#f4f8ff" stroke="#1f4fd0" stroke-width="1.3"/><line x1="1645.4" y1="11.2" x2="1640.6" y2="15.8" stroke="#2a5ad8" stroke-width="2.2" stroke-linecap="round"/>
<path d="M1666,12.5 a5,4 0 0 1 10,-1 a4,3.4 0 0 1 -3,6.4 h-3 l-2,2 v-2.2 a4,3.6 0 0 1 -2,-5.2 z" fill="#e2e4ea" stroke="#b8bcc6" stroke-width="0.8"/>
<circle cx="1679.5" cy="8.4" r="8" fill="#dd3a22"/><circle cx="1679.5" cy="7" r="6.4" fill="#e8533a" opacity="0.55"/>
<text x="1675.8" y="13.2" font-size="13.4" fill="#fff" stroke="#fff" stroke-width="0.3">1</text>
<path d="M14.8,25.2 L16.3,27 L17.8,25.2" fill="none" stroke="#000" stroke-width="0.9"/>
</svg>
<div id="edge"></div>

<div id="tp">
  <div class="sell"><span class="lbl" style="left:2.3px">SELL</span><i class="ul" style="left:0;width:38px"></i></div>
  <div class="vol">
    <div class="btn" style="left:2px"><i class="dn"></i></div>
    <div class="val">1.00</div>
    <div class="btn" style="right:1px"><i class="up"></i></div>
  </div>
  <div class="buy"><span class="lbl" style="left:12.7px;transform:scaleX(0.925)">BUY</span><i class="ul" style="left:3px;width:44px"></i></div>
  <div class="px l"><b style="left:6.2px">27338</b><i class="dot" style="left:45.6px"></i><span class="big" style="left:52.2px">5</span></div>
  <div class="px r"><b style="left:15px">27361</b><i class="dot" style="left:55.4px"></i><span class="big" style="left:62.6px">5</span></div>
</div>

</body></html>
